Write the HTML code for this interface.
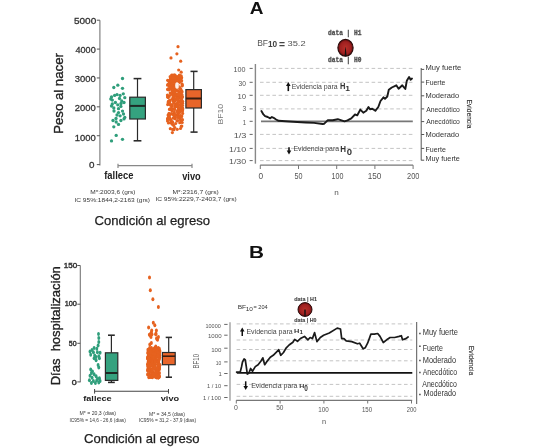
<!DOCTYPE html>
<html><head><meta charset="utf-8"><style>
html,body{margin:0;padding:0;background:#fff;width:533px;height:447px;overflow:hidden}
svg{display:block;filter:blur(0.45px)}
text{white-space:pre}
</style></head><body>
<svg width="533" height="447" viewBox="0 0 533 447">
<rect width="533" height="447" fill="#fff"/>
<g id="shapes">
<line x1="99.90" y1="20.20" x2="99.90" y2="165.60" stroke="#777" stroke-width="1.1" />
<line x1="96.80" y1="164.60" x2="99.90" y2="164.60" stroke="#555" stroke-width="1" />
<line x1="96.80" y1="135.72" x2="99.90" y2="135.72" stroke="#555" stroke-width="1" />
<line x1="96.80" y1="106.84" x2="99.90" y2="106.84" stroke="#555" stroke-width="1" />
<line x1="96.80" y1="77.96" x2="99.90" y2="77.96" stroke="#555" stroke-width="1" />
<line x1="96.80" y1="49.08" x2="99.90" y2="49.08" stroke="#555" stroke-width="1" />
<line x1="96.80" y1="20.20" x2="99.90" y2="20.20" stroke="#555" stroke-width="1" />
<ellipse cx="122.50" cy="78.50" rx="1.65" ry="1.65" fill="#2f9e7b"/>
<ellipse cx="117.80" cy="85.20" rx="1.65" ry="1.65" fill="#2f9e7b"/>
<ellipse cx="113.80" cy="87.50" rx="1.65" ry="1.65" fill="#2f9e7b"/>
<ellipse cx="122.50" cy="88.30" rx="1.65" ry="1.65" fill="#2f9e7b"/>
<ellipse cx="111.50" cy="97.00" rx="1.65" ry="1.65" fill="#2f9e7b"/>
<ellipse cx="114.60" cy="95.40" rx="1.65" ry="1.65" fill="#2f9e7b"/>
<ellipse cx="117.00" cy="94.60" rx="1.65" ry="1.65" fill="#2f9e7b"/>
<ellipse cx="120.10" cy="95.40" rx="1.65" ry="1.65" fill="#2f9e7b"/>
<ellipse cx="123.30" cy="93.80" rx="1.65" ry="1.65" fill="#2f9e7b"/>
<ellipse cx="124.80" cy="97.70" rx="1.65" ry="1.65" fill="#2f9e7b"/>
<ellipse cx="112.30" cy="100.10" rx="1.65" ry="1.65" fill="#2f9e7b"/>
<ellipse cx="112.30" cy="104.00" rx="1.65" ry="1.65" fill="#2f9e7b"/>
<ellipse cx="115.40" cy="102.50" rx="1.65" ry="1.65" fill="#2f9e7b"/>
<ellipse cx="117.80" cy="104.80" rx="1.65" ry="1.65" fill="#2f9e7b"/>
<ellipse cx="121.70" cy="100.90" rx="1.65" ry="1.65" fill="#2f9e7b"/>
<ellipse cx="124.00" cy="102.50" rx="1.65" ry="1.65" fill="#2f9e7b"/>
<ellipse cx="113.80" cy="108.00" rx="1.65" ry="1.65" fill="#2f9e7b"/>
<ellipse cx="118.50" cy="108.70" rx="1.65" ry="1.65" fill="#2f9e7b"/>
<ellipse cx="120.90" cy="106.40" rx="1.65" ry="1.65" fill="#2f9e7b"/>
<ellipse cx="122.50" cy="111.10" rx="1.65" ry="1.65" fill="#2f9e7b"/>
<ellipse cx="118.50" cy="112.60" rx="1.65" ry="1.65" fill="#2f9e7b"/>
<ellipse cx="117.00" cy="115.00" rx="1.65" ry="1.65" fill="#2f9e7b"/>
<ellipse cx="120.10" cy="115.80" rx="1.65" ry="1.65" fill="#2f9e7b"/>
<ellipse cx="124.80" cy="117.40" rx="1.65" ry="1.65" fill="#2f9e7b"/>
<ellipse cx="113.00" cy="120.50" rx="1.65" ry="1.65" fill="#2f9e7b"/>
<ellipse cx="116.20" cy="122.00" rx="1.65" ry="1.65" fill="#2f9e7b"/>
<ellipse cx="120.90" cy="120.50" rx="1.65" ry="1.65" fill="#2f9e7b"/>
<ellipse cx="118.50" cy="124.40" rx="1.65" ry="1.65" fill="#2f9e7b"/>
<ellipse cx="113.80" cy="126.80" rx="1.65" ry="1.65" fill="#2f9e7b"/>
<ellipse cx="124.00" cy="118.90" rx="1.65" ry="1.65" fill="#2f9e7b"/>
<ellipse cx="116.20" cy="135.40" rx="1.65" ry="1.65" fill="#2f9e7b"/>
<ellipse cx="111.50" cy="140.90" rx="1.65" ry="1.65" fill="#2f9e7b"/>
<ellipse cx="122.50" cy="139.30" rx="1.65" ry="1.65" fill="#2f9e7b"/>
<ellipse cx="110.80" cy="99.00" rx="1.65" ry="1.65" fill="#2f9e7b"/>
<ellipse cx="119.50" cy="98.50" rx="1.65" ry="1.65" fill="#2f9e7b"/>
<ellipse cx="114.00" cy="111.00" rx="1.65" ry="1.65" fill="#2f9e7b"/>
<ellipse cx="121.00" cy="103.50" rx="1.65" ry="1.65" fill="#2f9e7b"/>
<ellipse cx="116.00" cy="118.50" rx="1.65" ry="1.65" fill="#2f9e7b"/>
<ellipse cx="123.50" cy="114.00" rx="1.65" ry="1.65" fill="#2f9e7b"/>
<ellipse cx="111.50" cy="106.00" rx="1.65" ry="1.65" fill="#2f9e7b"/>
<line x1="137.50" y1="78.60" x2="137.50" y2="97.20" stroke="#2a2a2a" stroke-width="1.2" />
<line x1="137.50" y1="119.00" x2="137.50" y2="140.80" stroke="#2a2a2a" stroke-width="1.2" />
<line x1="133.60" y1="78.60" x2="141.40" y2="78.60" stroke="#2a2a2a" stroke-width="1.56" />
<line x1="133.60" y1="140.80" x2="141.40" y2="140.80" stroke="#2a2a2a" stroke-width="1.56" />
<rect x="129.80" y="97.20" width="15.60" height="21.80" fill="#35a27f" stroke="#2a2a2a" stroke-width="1.2"/>
<line x1="129.80" y1="105.90" x2="145.40" y2="105.90" stroke="#1e2a25" stroke-width="2" />
<ellipse cx="178.00" cy="46.70" rx="1.6" ry="1.6" fill="#e6621f"/>
<ellipse cx="176.90" cy="53.80" rx="1.6" ry="1.6" fill="#e6621f"/>
<ellipse cx="171.00" cy="57.90" rx="1.6" ry="1.6" fill="#e6621f"/>
<ellipse cx="180.70" cy="61.20" rx="1.6" ry="1.6" fill="#e6621f"/>
<ellipse cx="178.70" cy="70.00" rx="1.6" ry="1.6" fill="#e6621f"/>
<ellipse cx="181.20" cy="72.20" rx="1.6" ry="1.6" fill="#e6621f"/>
<ellipse cx="172.90" cy="129.30" rx="1.6" ry="1.6" fill="#e6621f"/>
<ellipse cx="172.40" cy="132.60" rx="1.6" ry="1.6" fill="#e6621f"/>
<ellipse cx="181.80" cy="126.00" rx="1.6" ry="1.6" fill="#e6621f"/>
<ellipse cx="174.80" cy="127.50" rx="1.6" ry="1.6" fill="#e6621f"/>
<ellipse cx="168.50" cy="123.00" rx="1.6" ry="1.6" fill="#e6621f"/>
<ellipse cx="177.00" cy="121.00" rx="1.6" ry="1.6" fill="#e6621f"/>
<ellipse cx="169.72" cy="88.28" rx="1.6" ry="1.6" fill="#e6621f"/>
<ellipse cx="168.52" cy="101.69" rx="1.6" ry="1.6" fill="#e6621f"/>
<ellipse cx="173.03" cy="96.97" rx="1.6" ry="1.6" fill="#e6621f"/>
<ellipse cx="175.94" cy="77.38" rx="1.6" ry="1.6" fill="#e6621f"/>
<ellipse cx="175.06" cy="76.54" rx="1.6" ry="1.6" fill="#e6621f"/>
<ellipse cx="170.98" cy="77.86" rx="1.6" ry="1.6" fill="#e6621f"/>
<ellipse cx="180.13" cy="92.41" rx="1.6" ry="1.6" fill="#e6621f"/>
<ellipse cx="170.84" cy="80.08" rx="1.6" ry="1.6" fill="#e6621f"/>
<ellipse cx="181.99" cy="100.72" rx="1.6" ry="1.6" fill="#e6621f"/>
<ellipse cx="173.51" cy="98.66" rx="1.6" ry="1.6" fill="#e6621f"/>
<ellipse cx="168.12" cy="115.03" rx="1.6" ry="1.6" fill="#e6621f"/>
<ellipse cx="171.86" cy="110.20" rx="1.6" ry="1.6" fill="#e6621f"/>
<ellipse cx="169.21" cy="80.91" rx="1.6" ry="1.6" fill="#e6621f"/>
<ellipse cx="179.97" cy="87.65" rx="1.6" ry="1.6" fill="#e6621f"/>
<ellipse cx="176.36" cy="82.41" rx="1.6" ry="1.6" fill="#e6621f"/>
<ellipse cx="173.13" cy="101.20" rx="1.6" ry="1.6" fill="#e6621f"/>
<ellipse cx="168.37" cy="97.46" rx="1.6" ry="1.6" fill="#e6621f"/>
<ellipse cx="172.35" cy="77.44" rx="1.6" ry="1.6" fill="#e6621f"/>
<ellipse cx="173.98" cy="102.90" rx="1.6" ry="1.6" fill="#e6621f"/>
<ellipse cx="176.42" cy="87.88" rx="1.6" ry="1.6" fill="#e6621f"/>
<ellipse cx="172.02" cy="93.58" rx="1.6" ry="1.6" fill="#e6621f"/>
<ellipse cx="178.16" cy="107.57" rx="1.6" ry="1.6" fill="#e6621f"/>
<ellipse cx="176.25" cy="85.01" rx="1.6" ry="1.6" fill="#e6621f"/>
<ellipse cx="180.88" cy="96.53" rx="1.6" ry="1.6" fill="#e6621f"/>
<ellipse cx="171.83" cy="104.91" rx="1.6" ry="1.6" fill="#e6621f"/>
<ellipse cx="169.22" cy="115.19" rx="1.6" ry="1.6" fill="#e6621f"/>
<ellipse cx="179.06" cy="92.14" rx="1.6" ry="1.6" fill="#e6621f"/>
<ellipse cx="174.93" cy="81.23" rx="1.6" ry="1.6" fill="#e6621f"/>
<ellipse cx="177.85" cy="76.61" rx="1.6" ry="1.6" fill="#e6621f"/>
<ellipse cx="176.22" cy="106.35" rx="1.6" ry="1.6" fill="#e6621f"/>
<ellipse cx="172.23" cy="110.89" rx="1.6" ry="1.6" fill="#e6621f"/>
<ellipse cx="176.55" cy="103.51" rx="1.6" ry="1.6" fill="#e6621f"/>
<ellipse cx="174.43" cy="98.78" rx="1.6" ry="1.6" fill="#e6621f"/>
<ellipse cx="181.95" cy="109.44" rx="1.6" ry="1.6" fill="#e6621f"/>
<ellipse cx="177.63" cy="94.44" rx="1.6" ry="1.6" fill="#e6621f"/>
<ellipse cx="178.25" cy="77.49" rx="1.6" ry="1.6" fill="#e6621f"/>
<ellipse cx="182.69" cy="101.53" rx="1.6" ry="1.6" fill="#e6621f"/>
<ellipse cx="171.78" cy="108.70" rx="1.6" ry="1.6" fill="#e6621f"/>
<ellipse cx="177.70" cy="90.82" rx="1.6" ry="1.6" fill="#e6621f"/>
<ellipse cx="175.39" cy="75.93" rx="1.6" ry="1.6" fill="#e6621f"/>
<ellipse cx="169.20" cy="81.89" rx="1.6" ry="1.6" fill="#e6621f"/>
<ellipse cx="179.04" cy="77.42" rx="1.6" ry="1.6" fill="#e6621f"/>
<ellipse cx="171.21" cy="80.30" rx="1.6" ry="1.6" fill="#e6621f"/>
<ellipse cx="180.82" cy="91.03" rx="1.6" ry="1.6" fill="#e6621f"/>
<ellipse cx="175.25" cy="78.30" rx="1.6" ry="1.6" fill="#e6621f"/>
<ellipse cx="181.00" cy="97.53" rx="1.6" ry="1.6" fill="#e6621f"/>
<ellipse cx="180.71" cy="108.59" rx="1.6" ry="1.6" fill="#e6621f"/>
<ellipse cx="173.80" cy="86.42" rx="1.6" ry="1.6" fill="#e6621f"/>
<ellipse cx="181.02" cy="89.71" rx="1.6" ry="1.6" fill="#e6621f"/>
<ellipse cx="169.72" cy="114.27" rx="1.6" ry="1.6" fill="#e6621f"/>
<ellipse cx="170.97" cy="82.22" rx="1.6" ry="1.6" fill="#e6621f"/>
<ellipse cx="174.87" cy="84.57" rx="1.6" ry="1.6" fill="#e6621f"/>
<ellipse cx="171.45" cy="99.15" rx="1.6" ry="1.6" fill="#e6621f"/>
<ellipse cx="174.89" cy="75.17" rx="1.6" ry="1.6" fill="#e6621f"/>
<ellipse cx="176.12" cy="90.14" rx="1.6" ry="1.6" fill="#e6621f"/>
<ellipse cx="178.03" cy="114.08" rx="1.6" ry="1.6" fill="#e6621f"/>
<ellipse cx="176.91" cy="96.14" rx="1.6" ry="1.6" fill="#e6621f"/>
<ellipse cx="168.23" cy="102.72" rx="1.6" ry="1.6" fill="#e6621f"/>
<ellipse cx="179.41" cy="111.88" rx="1.6" ry="1.6" fill="#e6621f"/>
<ellipse cx="179.69" cy="110.86" rx="1.6" ry="1.6" fill="#e6621f"/>
<ellipse cx="173.54" cy="91.09" rx="1.6" ry="1.6" fill="#e6621f"/>
<ellipse cx="177.45" cy="79.25" rx="1.6" ry="1.6" fill="#e6621f"/>
<ellipse cx="170.70" cy="77.55" rx="1.6" ry="1.6" fill="#e6621f"/>
<ellipse cx="169.90" cy="83.56" rx="1.6" ry="1.6" fill="#e6621f"/>
<ellipse cx="168.21" cy="88.94" rx="1.6" ry="1.6" fill="#e6621f"/>
<ellipse cx="171.70" cy="75.01" rx="1.6" ry="1.6" fill="#e6621f"/>
<ellipse cx="174.23" cy="79.16" rx="1.6" ry="1.6" fill="#e6621f"/>
<ellipse cx="180.30" cy="76.05" rx="1.6" ry="1.6" fill="#e6621f"/>
<ellipse cx="169.69" cy="100.18" rx="1.6" ry="1.6" fill="#e6621f"/>
<ellipse cx="172.75" cy="85.34" rx="1.6" ry="1.6" fill="#e6621f"/>
<ellipse cx="169.29" cy="89.93" rx="1.6" ry="1.6" fill="#e6621f"/>
<ellipse cx="182.69" cy="109.81" rx="1.6" ry="1.6" fill="#e6621f"/>
<ellipse cx="174.85" cy="94.11" rx="1.6" ry="1.6" fill="#e6621f"/>
<ellipse cx="171.12" cy="78.52" rx="1.6" ry="1.6" fill="#e6621f"/>
<ellipse cx="171.48" cy="89.05" rx="1.6" ry="1.6" fill="#e6621f"/>
<ellipse cx="169.89" cy="108.98" rx="1.6" ry="1.6" fill="#e6621f"/>
<ellipse cx="181.22" cy="75.95" rx="1.6" ry="1.6" fill="#e6621f"/>
<ellipse cx="169.66" cy="96.66" rx="1.6" ry="1.6" fill="#e6621f"/>
<ellipse cx="167.82" cy="97.27" rx="1.6" ry="1.6" fill="#e6621f"/>
<ellipse cx="182.47" cy="96.65" rx="1.6" ry="1.6" fill="#e6621f"/>
<ellipse cx="178.12" cy="110.40" rx="1.6" ry="1.6" fill="#e6621f"/>
<ellipse cx="173.05" cy="85.71" rx="1.6" ry="1.6" fill="#e6621f"/>
<ellipse cx="179.29" cy="81.85" rx="1.6" ry="1.6" fill="#e6621f"/>
<ellipse cx="179.40" cy="96.84" rx="1.6" ry="1.6" fill="#e6621f"/>
<ellipse cx="170.83" cy="88.52" rx="1.6" ry="1.6" fill="#e6621f"/>
<ellipse cx="182.57" cy="108.27" rx="1.6" ry="1.6" fill="#e6621f"/>
<ellipse cx="179.81" cy="109.96" rx="1.6" ry="1.6" fill="#e6621f"/>
<ellipse cx="178.79" cy="108.55" rx="1.6" ry="1.6" fill="#e6621f"/>
<ellipse cx="175.37" cy="84.30" rx="1.6" ry="1.6" fill="#e6621f"/>
<ellipse cx="167.85" cy="89.58" rx="1.6" ry="1.6" fill="#e6621f"/>
<ellipse cx="173.23" cy="76.15" rx="1.6" ry="1.6" fill="#e6621f"/>
<ellipse cx="178.06" cy="85.63" rx="1.6" ry="1.6" fill="#e6621f"/>
<ellipse cx="174.29" cy="114.22" rx="1.6" ry="1.6" fill="#e6621f"/>
<ellipse cx="182.62" cy="113.42" rx="1.6" ry="1.6" fill="#e6621f"/>
<ellipse cx="173.02" cy="114.16" rx="1.6" ry="1.6" fill="#e6621f"/>
<ellipse cx="170.89" cy="84.04" rx="1.6" ry="1.6" fill="#e6621f"/>
<ellipse cx="170.55" cy="83.06" rx="1.6" ry="1.6" fill="#e6621f"/>
<ellipse cx="181.26" cy="100.59" rx="1.6" ry="1.6" fill="#e6621f"/>
<ellipse cx="174.78" cy="109.46" rx="1.6" ry="1.6" fill="#e6621f"/>
<ellipse cx="179.71" cy="101.77" rx="1.6" ry="1.6" fill="#e6621f"/>
<ellipse cx="177.76" cy="78.48" rx="1.6" ry="1.6" fill="#e6621f"/>
<ellipse cx="179.45" cy="112.30" rx="1.6" ry="1.6" fill="#e6621f"/>
<ellipse cx="174.76" cy="105.76" rx="1.6" ry="1.6" fill="#e6621f"/>
<ellipse cx="179.55" cy="82.32" rx="1.6" ry="1.6" fill="#e6621f"/>
<ellipse cx="179.73" cy="88.63" rx="1.6" ry="1.6" fill="#e6621f"/>
<ellipse cx="173.50" cy="114.84" rx="1.6" ry="1.6" fill="#e6621f"/>
<ellipse cx="181.98" cy="91.46" rx="1.6" ry="1.6" fill="#e6621f"/>
<ellipse cx="170.02" cy="104.72" rx="1.6" ry="1.6" fill="#e6621f"/>
<ellipse cx="169.73" cy="80.21" rx="1.6" ry="1.6" fill="#e6621f"/>
<ellipse cx="179.82" cy="112.10" rx="1.6" ry="1.6" fill="#e6621f"/>
<ellipse cx="180.13" cy="80.99" rx="1.6" ry="1.6" fill="#e6621f"/>
<ellipse cx="177.52" cy="115.19" rx="1.6" ry="1.6" fill="#e6621f"/>
<ellipse cx="175.85" cy="89.37" rx="1.6" ry="1.6" fill="#e6621f"/>
<ellipse cx="167.62" cy="80.37" rx="1.6" ry="1.6" fill="#e6621f"/>
<ellipse cx="177.40" cy="114.81" rx="1.6" ry="1.6" fill="#e6621f"/>
<ellipse cx="181.78" cy="96.59" rx="1.6" ry="1.6" fill="#e6621f"/>
<ellipse cx="180.82" cy="92.79" rx="1.6" ry="1.6" fill="#e6621f"/>
<ellipse cx="170.65" cy="108.87" rx="1.6" ry="1.6" fill="#e6621f"/>
<ellipse cx="171.91" cy="85.33" rx="1.6" ry="1.6" fill="#e6621f"/>
<ellipse cx="176.43" cy="84.86" rx="1.6" ry="1.6" fill="#e6621f"/>
<ellipse cx="173.85" cy="85.63" rx="1.6" ry="1.6" fill="#e6621f"/>
<ellipse cx="181.41" cy="80.37" rx="1.6" ry="1.6" fill="#e6621f"/>
<ellipse cx="174.46" cy="89.51" rx="1.6" ry="1.6" fill="#e6621f"/>
<ellipse cx="181.33" cy="98.92" rx="1.6" ry="1.6" fill="#e6621f"/>
<ellipse cx="181.53" cy="92.25" rx="1.6" ry="1.6" fill="#e6621f"/>
<ellipse cx="175.59" cy="95.57" rx="1.6" ry="1.6" fill="#e6621f"/>
<ellipse cx="167.69" cy="96.46" rx="1.6" ry="1.6" fill="#e6621f"/>
<ellipse cx="170.22" cy="93.05" rx="1.6" ry="1.6" fill="#e6621f"/>
<ellipse cx="179.41" cy="75.16" rx="1.6" ry="1.6" fill="#e6621f"/>
<ellipse cx="174.69" cy="82.07" rx="1.6" ry="1.6" fill="#e6621f"/>
<ellipse cx="175.97" cy="104.73" rx="1.6" ry="1.6" fill="#e6621f"/>
<ellipse cx="175.38" cy="88.37" rx="1.6" ry="1.6" fill="#e6621f"/>
<ellipse cx="179.48" cy="97.77" rx="1.6" ry="1.6" fill="#e6621f"/>
<ellipse cx="176.57" cy="79.35" rx="1.6" ry="1.6" fill="#e6621f"/>
<ellipse cx="171.66" cy="85.19" rx="1.6" ry="1.6" fill="#e6621f"/>
<ellipse cx="175.22" cy="106.66" rx="1.6" ry="1.6" fill="#e6621f"/>
<ellipse cx="179.10" cy="98.03" rx="1.6" ry="1.6" fill="#e6621f"/>
<ellipse cx="174.23" cy="112.41" rx="1.6" ry="1.6" fill="#e6621f"/>
<ellipse cx="175.19" cy="100.11" rx="1.6" ry="1.6" fill="#e6621f"/>
<ellipse cx="178.07" cy="96.00" rx="1.6" ry="1.6" fill="#e6621f"/>
<ellipse cx="175.61" cy="93.55" rx="1.6" ry="1.6" fill="#e6621f"/>
<ellipse cx="181.90" cy="94.60" rx="1.6" ry="1.6" fill="#e6621f"/>
<ellipse cx="180.90" cy="103.67" rx="1.6" ry="1.6" fill="#e6621f"/>
<ellipse cx="171.40" cy="113.63" rx="1.6" ry="1.6" fill="#e6621f"/>
<ellipse cx="181.93" cy="97.94" rx="1.6" ry="1.6" fill="#e6621f"/>
<ellipse cx="169.51" cy="109.44" rx="1.6" ry="1.6" fill="#e6621f"/>
<ellipse cx="175.16" cy="79.99" rx="1.6" ry="1.6" fill="#e6621f"/>
<ellipse cx="172.76" cy="77.97" rx="1.6" ry="1.6" fill="#e6621f"/>
<ellipse cx="177.87" cy="78.00" rx="1.6" ry="1.6" fill="#e6621f"/>
<ellipse cx="181.21" cy="107.14" rx="1.6" ry="1.6" fill="#e6621f"/>
<ellipse cx="178.43" cy="81.33" rx="1.6" ry="1.6" fill="#e6621f"/>
<ellipse cx="169.60" cy="102.07" rx="1.6" ry="1.6" fill="#e6621f"/>
<ellipse cx="182.30" cy="111.20" rx="1.6" ry="1.6" fill="#e6621f"/>
<ellipse cx="182.07" cy="84.00" rx="1.6" ry="1.6" fill="#e6621f"/>
<ellipse cx="174.90" cy="91.33" rx="1.6" ry="1.6" fill="#e6621f"/>
<ellipse cx="180.22" cy="115.58" rx="1.6" ry="1.6" fill="#e6621f"/>
<ellipse cx="174.05" cy="81.62" rx="1.6" ry="1.6" fill="#e6621f"/>
<ellipse cx="172.62" cy="96.14" rx="1.6" ry="1.6" fill="#e6621f"/>
<ellipse cx="172.31" cy="83.03" rx="1.6" ry="1.6" fill="#e6621f"/>
<ellipse cx="167.70" cy="104.61" rx="1.6" ry="1.6" fill="#e6621f"/>
<ellipse cx="174.18" cy="97.72" rx="1.6" ry="1.6" fill="#e6621f"/>
<ellipse cx="173.84" cy="75.74" rx="1.6" ry="1.6" fill="#e6621f"/>
<ellipse cx="175.29" cy="100.58" rx="1.6" ry="1.6" fill="#e6621f"/>
<ellipse cx="181.62" cy="77.64" rx="1.6" ry="1.6" fill="#e6621f"/>
<ellipse cx="182.36" cy="107.32" rx="1.6" ry="1.6" fill="#e6621f"/>
<ellipse cx="173.06" cy="79.30" rx="1.6" ry="1.6" fill="#e6621f"/>
<ellipse cx="179.17" cy="76.62" rx="1.6" ry="1.6" fill="#e6621f"/>
<ellipse cx="169.40" cy="86.09" rx="1.6" ry="1.6" fill="#e6621f"/>
<ellipse cx="181.44" cy="92.31" rx="1.6" ry="1.6" fill="#e6621f"/>
<ellipse cx="171.38" cy="108.58" rx="1.6" ry="1.6" fill="#e6621f"/>
<ellipse cx="181.56" cy="81.12" rx="1.6" ry="1.6" fill="#e6621f"/>
<ellipse cx="178.19" cy="98.39" rx="1.6" ry="1.6" fill="#e6621f"/>
<ellipse cx="170.58" cy="78.67" rx="1.6" ry="1.6" fill="#e6621f"/>
<ellipse cx="173.95" cy="103.22" rx="1.6" ry="1.6" fill="#e6621f"/>
<ellipse cx="181.07" cy="77.97" rx="1.6" ry="1.6" fill="#e6621f"/>
<ellipse cx="179.75" cy="101.01" rx="1.6" ry="1.6" fill="#e6621f"/>
<ellipse cx="180.09" cy="78.43" rx="1.6" ry="1.6" fill="#e6621f"/>
<ellipse cx="180.17" cy="77.73" rx="1.6" ry="1.6" fill="#e6621f"/>
<ellipse cx="172.62" cy="93.60" rx="1.6" ry="1.6" fill="#e6621f"/>
<ellipse cx="181.67" cy="97.68" rx="1.6" ry="1.6" fill="#e6621f"/>
<ellipse cx="169.39" cy="85.98" rx="1.6" ry="1.6" fill="#e6621f"/>
<ellipse cx="171.07" cy="96.60" rx="1.6" ry="1.6" fill="#e6621f"/>
<ellipse cx="171.82" cy="79.49" rx="1.6" ry="1.6" fill="#e6621f"/>
<ellipse cx="172.30" cy="77.07" rx="1.6" ry="1.6" fill="#e6621f"/>
<ellipse cx="172.10" cy="87.79" rx="1.6" ry="1.6" fill="#e6621f"/>
<ellipse cx="171.87" cy="106.14" rx="1.6" ry="1.6" fill="#e6621f"/>
<ellipse cx="170.14" cy="95.50" rx="1.6" ry="1.6" fill="#e6621f"/>
<ellipse cx="167.68" cy="89.23" rx="1.6" ry="1.6" fill="#e6621f"/>
<ellipse cx="167.64" cy="85.27" rx="1.6" ry="1.6" fill="#e6621f"/>
<ellipse cx="175.89" cy="105.06" rx="1.6" ry="1.6" fill="#e6621f"/>
<ellipse cx="174.71" cy="82.77" rx="1.6" ry="1.6" fill="#e6621f"/>
<ellipse cx="169.04" cy="113.32" rx="1.6" ry="1.6" fill="#e6621f"/>
<ellipse cx="174.06" cy="108.58" rx="1.6" ry="1.6" fill="#e6621f"/>
<ellipse cx="180.25" cy="95.30" rx="1.6" ry="1.6" fill="#e6621f"/>
<ellipse cx="175.20" cy="91.12" rx="1.6" ry="1.6" fill="#e6621f"/>
<ellipse cx="182.53" cy="103.20" rx="1.6" ry="1.6" fill="#e6621f"/>
<ellipse cx="180.22" cy="89.05" rx="1.6" ry="1.6" fill="#e6621f"/>
<ellipse cx="177.19" cy="103.98" rx="1.6" ry="1.6" fill="#e6621f"/>
<ellipse cx="172.75" cy="91.59" rx="1.6" ry="1.6" fill="#e6621f"/>
<ellipse cx="171.44" cy="77.23" rx="1.6" ry="1.6" fill="#e6621f"/>
<ellipse cx="178.72" cy="77.90" rx="1.6" ry="1.6" fill="#e6621f"/>
<ellipse cx="169.91" cy="85.48" rx="1.6" ry="1.6" fill="#e6621f"/>
<ellipse cx="179.91" cy="78.46" rx="1.6" ry="1.6" fill="#e6621f"/>
<ellipse cx="177.73" cy="110.69" rx="1.6" ry="1.6" fill="#e6621f"/>
<ellipse cx="171.13" cy="86.56" rx="1.6" ry="1.6" fill="#e6621f"/>
<ellipse cx="174.48" cy="87.02" rx="1.6" ry="1.6" fill="#e6621f"/>
<ellipse cx="174.27" cy="81.46" rx="1.6" ry="1.6" fill="#e6621f"/>
<ellipse cx="182.21" cy="85.79" rx="1.6" ry="1.6" fill="#e6621f"/>
<ellipse cx="175.82" cy="114.88" rx="1.6" ry="1.6" fill="#e6621f"/>
<ellipse cx="182.27" cy="85.02" rx="1.6" ry="1.6" fill="#e6621f"/>
<ellipse cx="172.89" cy="87.69" rx="1.6" ry="1.6" fill="#e6621f"/>
<ellipse cx="174.44" cy="75.04" rx="1.6" ry="1.6" fill="#e6621f"/>
<ellipse cx="175.14" cy="94.46" rx="1.6" ry="1.6" fill="#e6621f"/>
<ellipse cx="175.17" cy="83.24" rx="1.6" ry="1.6" fill="#e6621f"/>
<ellipse cx="173.04" cy="75.20" rx="1.6" ry="1.6" fill="#e6621f"/>
<ellipse cx="174.65" cy="78.68" rx="1.6" ry="1.6" fill="#e6621f"/>
<ellipse cx="170.17" cy="76.71" rx="1.6" ry="1.6" fill="#e6621f"/>
<ellipse cx="170.99" cy="87.47" rx="1.6" ry="1.6" fill="#e6621f"/>
<ellipse cx="175.55" cy="99.01" rx="1.6" ry="1.6" fill="#e6621f"/>
<ellipse cx="177.53" cy="105.77" rx="1.6" ry="1.6" fill="#e6621f"/>
<ellipse cx="180.94" cy="104.36" rx="1.6" ry="1.6" fill="#e6621f"/>
<ellipse cx="172.42" cy="90.97" rx="1.6" ry="1.6" fill="#e6621f"/>
<ellipse cx="169.70" cy="115.37" rx="1.6" ry="1.6" fill="#e6621f"/>
<ellipse cx="177.31" cy="104.69" rx="1.6" ry="1.6" fill="#e6621f"/>
<ellipse cx="179.84" cy="76.80" rx="1.6" ry="1.6" fill="#e6621f"/>
<ellipse cx="177.06" cy="111.57" rx="1.6" ry="1.6" fill="#e6621f"/>
<ellipse cx="179.91" cy="105.09" rx="1.6" ry="1.6" fill="#e6621f"/>
<ellipse cx="175.47" cy="80.71" rx="1.6" ry="1.6" fill="#e6621f"/>
<ellipse cx="180.26" cy="95.68" rx="1.6" ry="1.6" fill="#e6621f"/>
<ellipse cx="180.13" cy="107.99" rx="1.6" ry="1.6" fill="#e6621f"/>
<ellipse cx="181.15" cy="98.95" rx="1.6" ry="1.6" fill="#e6621f"/>
<ellipse cx="178.08" cy="103.00" rx="1.6" ry="1.6" fill="#e6621f"/>
<ellipse cx="167.88" cy="84.43" rx="1.6" ry="1.6" fill="#e6621f"/>
<ellipse cx="172.95" cy="80.46" rx="1.6" ry="1.6" fill="#e6621f"/>
<ellipse cx="179.85" cy="79.30" rx="1.6" ry="1.6" fill="#e6621f"/>
<ellipse cx="177.07" cy="97.90" rx="1.6" ry="1.6" fill="#e6621f"/>
<ellipse cx="177.88" cy="100.68" rx="1.6" ry="1.6" fill="#e6621f"/>
<ellipse cx="167.45" cy="95.06" rx="1.6" ry="1.6" fill="#e6621f"/>
<ellipse cx="178.92" cy="107.71" rx="1.6" ry="1.6" fill="#e6621f"/>
<ellipse cx="175.64" cy="95.62" rx="1.6" ry="1.6" fill="#e6621f"/>
<ellipse cx="168.42" cy="102.03" rx="1.6" ry="1.6" fill="#e6621f"/>
<ellipse cx="171.28" cy="105.21" rx="1.6" ry="1.6" fill="#e6621f"/>
<ellipse cx="173.06" cy="78.05" rx="1.6" ry="1.6" fill="#e6621f"/>
<ellipse cx="170.56" cy="104.90" rx="1.6" ry="1.6" fill="#e6621f"/>
<ellipse cx="182.43" cy="105.33" rx="1.6" ry="1.6" fill="#e6621f"/>
<ellipse cx="173.29" cy="95.25" rx="1.6" ry="1.6" fill="#e6621f"/>
<ellipse cx="177.93" cy="94.64" rx="1.6" ry="1.6" fill="#e6621f"/>
<ellipse cx="176.90" cy="106.45" rx="1.6" ry="1.6" fill="#e6621f"/>
<ellipse cx="168.59" cy="101.35" rx="1.6" ry="1.6" fill="#e6621f"/>
<ellipse cx="171.31" cy="81.04" rx="1.6" ry="1.6" fill="#e6621f"/>
<ellipse cx="178.65" cy="117.44" rx="1.6" ry="1.6" fill="#e6621f"/>
<ellipse cx="176.02" cy="115.10" rx="1.6" ry="1.6" fill="#e6621f"/>
<ellipse cx="168.41" cy="117.15" rx="1.6" ry="1.6" fill="#e6621f"/>
<ellipse cx="177.58" cy="120.54" rx="1.6" ry="1.6" fill="#e6621f"/>
<ellipse cx="177.64" cy="117.33" rx="1.6" ry="1.6" fill="#e6621f"/>
<ellipse cx="175.25" cy="118.72" rx="1.6" ry="1.6" fill="#e6621f"/>
<ellipse cx="174.50" cy="115.95" rx="1.6" ry="1.6" fill="#e6621f"/>
<ellipse cx="180.90" cy="116.59" rx="1.6" ry="1.6" fill="#e6621f"/>
<ellipse cx="182.17" cy="122.49" rx="1.6" ry="1.6" fill="#e6621f"/>
<ellipse cx="167.76" cy="118.67" rx="1.6" ry="1.6" fill="#e6621f"/>
<ellipse cx="179.80" cy="122.74" rx="1.6" ry="1.6" fill="#e6621f"/>
<ellipse cx="174.24" cy="117.15" rx="1.6" ry="1.6" fill="#e6621f"/>
<ellipse cx="170.65" cy="122.56" rx="1.6" ry="1.6" fill="#e6621f"/>
<ellipse cx="170.66" cy="119.65" rx="1.6" ry="1.6" fill="#e6621f"/>
<ellipse cx="169.63" cy="119.19" rx="1.6" ry="1.6" fill="#e6621f"/>
<ellipse cx="181.79" cy="116.06" rx="1.6" ry="1.6" fill="#e6621f"/>
<ellipse cx="179.80" cy="119.07" rx="1.6" ry="1.6" fill="#e6621f"/>
<ellipse cx="180.80" cy="120.63" rx="1.6" ry="1.6" fill="#e6621f"/>
<ellipse cx="170.97" cy="122.18" rx="1.6" ry="1.6" fill="#e6621f"/>
<ellipse cx="174.79" cy="115.20" rx="1.6" ry="1.6" fill="#e6621f"/>
<ellipse cx="167.55" cy="118.93" rx="1.6" ry="1.6" fill="#e6621f"/>
<ellipse cx="174.26" cy="117.42" rx="1.6" ry="1.6" fill="#e6621f"/>
<ellipse cx="169.61" cy="117.75" rx="1.6" ry="1.6" fill="#e6621f"/>
<ellipse cx="172.24" cy="121.72" rx="1.6" ry="1.6" fill="#e6621f"/>
<ellipse cx="167.53" cy="121.01" rx="1.6" ry="1.6" fill="#e6621f"/>
<ellipse cx="180.09" cy="115.96" rx="1.6" ry="1.6" fill="#e6621f"/>
<ellipse cx="181.40" cy="120.70" rx="1.6" ry="1.6" fill="#e6621f"/>
<ellipse cx="181.02" cy="117.32" rx="1.6" ry="1.6" fill="#e6621f"/>
<ellipse cx="173.08" cy="118.14" rx="1.6" ry="1.6" fill="#e6621f"/>
<ellipse cx="182.48" cy="119.71" rx="1.6" ry="1.6" fill="#e6621f"/>
<ellipse cx="173.69" cy="125.42" rx="1.6" ry="1.6" fill="#e6621f"/>
<ellipse cx="172.58" cy="122.39" rx="1.6" ry="1.6" fill="#e6621f"/>
<ellipse cx="170.32" cy="128.68" rx="1.6" ry="1.6" fill="#e6621f"/>
<ellipse cx="172.71" cy="129.48" rx="1.6" ry="1.6" fill="#e6621f"/>
<ellipse cx="172.24" cy="124.13" rx="1.6" ry="1.6" fill="#e6621f"/>
<ellipse cx="175.64" cy="123.52" rx="1.6" ry="1.6" fill="#e6621f"/>
<ellipse cx="173.85" cy="129.65" rx="1.6" ry="1.6" fill="#e6621f"/>
<ellipse cx="180.50" cy="128.50" rx="1.6" ry="1.6" fill="#e6621f"/>
<ellipse cx="177.20" cy="129.31" rx="1.6" ry="1.6" fill="#e6621f"/>
<ellipse cx="181.23" cy="126.39" rx="1.6" ry="1.6" fill="#e6621f"/>
<ellipse cx="177.0" cy="85.5" rx="1.8" ry="3.2" fill="#fff" opacity="0.9"/>
<ellipse cx="170.8" cy="97.5" rx="0.8" ry="2.0" fill="#fff" opacity="0.6" transform="rotate(35 170.8 97.5)"/>
<line x1="193.70" y1="71.40" x2="193.70" y2="89.60" stroke="#2a2a2a" stroke-width="1.2" />
<line x1="193.70" y1="108.00" x2="193.70" y2="132.10" stroke="#2a2a2a" stroke-width="1.2" />
<line x1="190.50" y1="71.40" x2="197.60" y2="71.40" stroke="#2a2a2a" stroke-width="1.56" />
<line x1="190.50" y1="132.10" x2="197.60" y2="132.10" stroke="#2a2a2a" stroke-width="1.56" />
<rect x="185.90" y="89.60" width="15.50" height="18.40" fill="#e8652a" stroke="#2a2a2a" stroke-width="1.2"/>
<line x1="185.90" y1="98.50" x2="201.40" y2="98.50" stroke="#3a1e10" stroke-width="2" />
<line x1="118.00" y1="165.60" x2="192.00" y2="165.60" stroke="#888" stroke-width="1.4" />
<line x1="118.00" y1="163.80" x2="118.00" y2="168.00" stroke="#888" stroke-width="1.2" />
<line x1="192.00" y1="163.80" x2="192.00" y2="168.00" stroke="#888" stroke-width="1.2" />
<defs><radialGradient id="pg" cx="50%" cy="50%" r="50%"><stop offset="0" stop-color="#b8302a"/><stop offset="0.7" stop-color="#a02020"/><stop offset="1" stop-color="#6a1010"/></radialGradient></defs>
<ellipse cx="345.5" cy="47.8" rx="7.6" ry="8.4" fill="url(#pg)" stroke="#2a0a0a" stroke-width="1.2"/>
<polygon points="344.6,56.2 345.3,47.2 345.7,47.2 346.6,56.2" fill="#111"/>
<line x1="255.40" y1="64.00" x2="255.40" y2="163.70" stroke="#888" stroke-width="1.4" />
<line x1="249.60" y1="68.40" x2="252.70" y2="68.40" stroke="#666" stroke-width="1" />
<line x1="260.00" y1="68.40" x2="413.50" y2="68.40" stroke="#c4c4c4" stroke-width="1" stroke-dasharray="3.6,2.6"/>
<line x1="249.60" y1="82.30" x2="252.70" y2="82.30" stroke="#666" stroke-width="1" />
<line x1="260.00" y1="82.30" x2="413.50" y2="82.30" stroke="#c4c4c4" stroke-width="1" stroke-dasharray="3.6,2.6"/>
<line x1="249.60" y1="95.30" x2="252.70" y2="95.30" stroke="#666" stroke-width="1" />
<line x1="260.00" y1="95.30" x2="413.50" y2="95.30" stroke="#c4c4c4" stroke-width="1" stroke-dasharray="3.6,2.6"/>
<line x1="249.60" y1="108.90" x2="252.70" y2="108.90" stroke="#666" stroke-width="1" />
<line x1="260.00" y1="108.90" x2="413.50" y2="108.90" stroke="#c4c4c4" stroke-width="1" stroke-dasharray="3.6,2.6"/>
<line x1="249.60" y1="121.30" x2="252.70" y2="121.30" stroke="#666" stroke-width="1" />
<line x1="261.00" y1="121.30" x2="412.80" y2="121.30" stroke="#777" stroke-width="1.8" />
<line x1="249.60" y1="134.40" x2="252.70" y2="134.40" stroke="#666" stroke-width="1" />
<line x1="260.00" y1="134.40" x2="413.50" y2="134.40" stroke="#c4c4c4" stroke-width="1" stroke-dasharray="3.6,2.6"/>
<line x1="249.60" y1="148.40" x2="252.70" y2="148.40" stroke="#666" stroke-width="1" />
<line x1="260.00" y1="148.40" x2="413.50" y2="148.40" stroke="#c4c4c4" stroke-width="1" stroke-dasharray="3.6,2.6"/>
<line x1="249.60" y1="160.60" x2="252.70" y2="160.60" stroke="#666" stroke-width="1" />
<line x1="260.00" y1="160.60" x2="413.50" y2="160.60" stroke="#c4c4c4" stroke-width="1" stroke-dasharray="3.6,2.6"/>
<line x1="421.20" y1="68.00" x2="421.20" y2="160.40" stroke="#555" stroke-width="1" />
<line x1="421.20" y1="69.40" x2="424.20" y2="69.40" stroke="#555" stroke-width="1" />
<line x1="421.20" y1="82.10" x2="424.20" y2="82.10" stroke="#555" stroke-width="1" />
<line x1="421.20" y1="95.80" x2="424.20" y2="95.80" stroke="#555" stroke-width="1" />
<line x1="421.20" y1="108.90" x2="424.20" y2="108.90" stroke="#555" stroke-width="1" />
<line x1="421.20" y1="121.60" x2="424.20" y2="121.60" stroke="#555" stroke-width="1" />
<line x1="421.20" y1="134.50" x2="424.20" y2="134.50" stroke="#555" stroke-width="1" />
<line x1="421.20" y1="148.40" x2="424.20" y2="148.40" stroke="#555" stroke-width="1" />
<line x1="421.20" y1="160.20" x2="424.20" y2="160.20" stroke="#555" stroke-width="1" />
<line x1="260.20" y1="165.10" x2="413.10" y2="165.10" stroke="#777" stroke-width="1.2" />
<line x1="260.30" y1="165.10" x2="260.30" y2="169.00" stroke="#777" stroke-width="1" />
<line x1="298.50" y1="165.10" x2="298.50" y2="169.00" stroke="#777" stroke-width="1" />
<line x1="336.70" y1="165.10" x2="336.70" y2="169.00" stroke="#777" stroke-width="1" />
<line x1="374.90" y1="165.10" x2="374.90" y2="169.00" stroke="#777" stroke-width="1" />
<line x1="413.10" y1="165.10" x2="413.10" y2="169.00" stroke="#777" stroke-width="1" />
<line x1="288.30" y1="85.00" x2="288.30" y2="91.10" stroke="#111" stroke-width="1.6" />
<polygon points="286.00,86.00 288.30,82.00 290.60,86.00" fill="#111"/>
<line x1="289.00" y1="147.20" x2="289.00" y2="151.50" stroke="#111" stroke-width="1.6" />
<polygon points="286.70,150.50 289.00,154.50 291.30,150.50" fill="#111"/>
<polyline points="261.40,111.00 263.40,114.40 265.10,116.10 267.70,117.00 270.20,118.30 271.90,117.00 273.60,117.80 276.10,119.50 278.60,120.80 285.40,121.20 297.20,122.00 305.70,122.50 314.10,122.90 322.60,124.00 324.30,123.70 327.60,120.30 332.70,120.30 337.80,119.20 340.00,119.80 344.50,121.30 347.50,120.30 351.30,118.30 355.00,114.50 357.30,115.30 360.30,109.60 363.30,112.70 366.30,110.80 368.50,107.00 370.00,109.30 372.30,108.80 375.30,110.80 378.30,107.00 380.50,101.00 383.50,97.30 385.00,98.80 387.30,96.50 388.80,89.80 391.80,87.50 396.30,85.30 398.60,88.70 402.30,85.30 405.30,89.00 406.80,80.80 409.10,77.00 410.60,79.70 412.00,78.50" fill="none" stroke="#1a1a1a" stroke-width="1.9" stroke-linejoin="round" stroke-linecap="round"/>
<line x1="80.30" y1="265.50" x2="80.30" y2="382.20" stroke="#777" stroke-width="1.1" />
<line x1="77.30" y1="265.50" x2="80.30" y2="265.50" stroke="#555" stroke-width="1" />
<line x1="77.30" y1="304.20" x2="80.30" y2="304.20" stroke="#555" stroke-width="1" />
<line x1="77.30" y1="343.30" x2="80.30" y2="343.30" stroke="#555" stroke-width="1" />
<line x1="77.30" y1="381.90" x2="80.30" y2="381.90" stroke="#555" stroke-width="1" />
<ellipse cx="98.50" cy="334.00" rx="1.45" ry="2.0" fill="#2f9e7b"/>
<ellipse cx="98.80" cy="338.00" rx="1.45" ry="2.0" fill="#2f9e7b"/>
<ellipse cx="98.80" cy="342.10" rx="1.45" ry="2.0" fill="#2f9e7b"/>
<ellipse cx="98.10" cy="345.40" rx="1.45" ry="2.0" fill="#2f9e7b"/>
<ellipse cx="94.10" cy="348.10" rx="1.45" ry="2.0" fill="#2f9e7b"/>
<ellipse cx="96.80" cy="348.80" rx="1.45" ry="2.0" fill="#2f9e7b"/>
<ellipse cx="90.00" cy="351.50" rx="1.45" ry="2.0" fill="#2f9e7b"/>
<ellipse cx="93.40" cy="352.20" rx="1.45" ry="2.0" fill="#2f9e7b"/>
<ellipse cx="97.40" cy="352.20" rx="1.45" ry="2.0" fill="#2f9e7b"/>
<ellipse cx="100.10" cy="352.80" rx="1.45" ry="2.0" fill="#2f9e7b"/>
<ellipse cx="90.70" cy="354.80" rx="1.45" ry="2.0" fill="#2f9e7b"/>
<ellipse cx="94.70" cy="355.50" rx="1.45" ry="2.0" fill="#2f9e7b"/>
<ellipse cx="98.80" cy="356.20" rx="1.45" ry="2.0" fill="#2f9e7b"/>
<ellipse cx="94.10" cy="358.20" rx="1.45" ry="2.0" fill="#2f9e7b"/>
<ellipse cx="96.10" cy="360.20" rx="1.45" ry="2.0" fill="#2f9e7b"/>
<ellipse cx="99.40" cy="358.20" rx="1.45" ry="2.0" fill="#2f9e7b"/>
<ellipse cx="92.00" cy="350.00" rx="1.45" ry="2.0" fill="#2f9e7b"/>
<ellipse cx="96.00" cy="357.00" rx="1.45" ry="2.0" fill="#2f9e7b"/>
<ellipse cx="98.10" cy="364.90" rx="1.45" ry="2.0" fill="#2f9e7b"/>
<ellipse cx="98.80" cy="367.60" rx="1.45" ry="2.0" fill="#2f9e7b"/>
<ellipse cx="90.70" cy="369.60" rx="1.45" ry="2.0" fill="#2f9e7b"/>
<ellipse cx="91.40" cy="373.00" rx="1.45" ry="2.0" fill="#2f9e7b"/>
<ellipse cx="94.10" cy="374.30" rx="1.45" ry="2.0" fill="#2f9e7b"/>
<ellipse cx="90.00" cy="375.70" rx="1.45" ry="2.0" fill="#2f9e7b"/>
<ellipse cx="92.10" cy="377.70" rx="1.45" ry="2.0" fill="#2f9e7b"/>
<ellipse cx="96.10" cy="376.30" rx="1.45" ry="2.0" fill="#2f9e7b"/>
<ellipse cx="99.40" cy="378.30" rx="1.45" ry="2.0" fill="#2f9e7b"/>
<ellipse cx="89.40" cy="380.30" rx="1.45" ry="2.0" fill="#2f9e7b"/>
<ellipse cx="93.40" cy="381.00" rx="1.45" ry="2.0" fill="#2f9e7b"/>
<ellipse cx="96.80" cy="380.30" rx="1.45" ry="2.0" fill="#2f9e7b"/>
<ellipse cx="100.10" cy="381.00" rx="1.45" ry="2.0" fill="#2f9e7b"/>
<ellipse cx="91.40" cy="383.00" rx="1.45" ry="2.0" fill="#2f9e7b"/>
<ellipse cx="95.40" cy="383.00" rx="1.45" ry="2.0" fill="#2f9e7b"/>
<ellipse cx="98.80" cy="382.40" rx="1.45" ry="2.0" fill="#2f9e7b"/>
<ellipse cx="92.50" cy="371.50" rx="1.45" ry="2.0" fill="#2f9e7b"/>
<ellipse cx="97.50" cy="379.00" rx="1.45" ry="2.0" fill="#2f9e7b"/>
<line x1="111.40" y1="335.20" x2="111.40" y2="352.80" stroke="#2a2a2a" stroke-width="1.2" />
<line x1="111.40" y1="380.40" x2="111.40" y2="382.40" stroke="#2a2a2a" stroke-width="1.2" />
<line x1="108.00" y1="335.20" x2="114.80" y2="335.20" stroke="#2a2a2a" stroke-width="1.56" />
<line x1="108.00" y1="382.40" x2="114.80" y2="382.40" stroke="#2a2a2a" stroke-width="1.56" />
<rect x="105.40" y="352.80" width="12.40" height="27.60" fill="#35a27f" stroke="#2a2a2a" stroke-width="1.2"/>
<line x1="105.40" y1="373.00" x2="117.80" y2="373.00" stroke="#1e2a25" stroke-width="2" />
<ellipse cx="149.50" cy="277.40" rx="1.5" ry="2.0" fill="#e6621f"/>
<ellipse cx="150.30" cy="290.30" rx="1.5" ry="2.0" fill="#e6621f"/>
<ellipse cx="152.90" cy="299.20" rx="1.5" ry="2.0" fill="#e6621f"/>
<ellipse cx="158.40" cy="307.10" rx="1.5" ry="2.0" fill="#e6621f"/>
<ellipse cx="153.30" cy="322.80" rx="1.5" ry="2.0" fill="#e6621f"/>
<ellipse cx="154.80" cy="325.20" rx="1.5" ry="2.0" fill="#e6621f"/>
<ellipse cx="148.60" cy="327.50" rx="1.5" ry="2.0" fill="#e6621f"/>
<ellipse cx="151.70" cy="330.60" rx="1.5" ry="2.0" fill="#e6621f"/>
<ellipse cx="156.40" cy="330.60" rx="1.5" ry="2.0" fill="#e6621f"/>
<ellipse cx="151.25" cy="332.84" rx="1.5" ry="2.0" fill="#e6621f"/>
<ellipse cx="157.56" cy="339.76" rx="1.5" ry="2.0" fill="#e6621f"/>
<ellipse cx="151.36" cy="342.96" rx="1.5" ry="2.0" fill="#e6621f"/>
<ellipse cx="156.00" cy="333.73" rx="1.5" ry="2.0" fill="#e6621f"/>
<ellipse cx="151.95" cy="334.16" rx="1.5" ry="2.0" fill="#e6621f"/>
<ellipse cx="156.65" cy="338.15" rx="1.5" ry="2.0" fill="#e6621f"/>
<ellipse cx="149.81" cy="344.56" rx="1.5" ry="2.0" fill="#e6621f"/>
<ellipse cx="158.42" cy="336.90" rx="1.5" ry="2.0" fill="#e6621f"/>
<ellipse cx="151.03" cy="337.11" rx="1.5" ry="2.0" fill="#e6621f"/>
<ellipse cx="156.95" cy="338.92" rx="1.5" ry="2.0" fill="#e6621f"/>
<ellipse cx="149.37" cy="334.75" rx="1.5" ry="2.0" fill="#e6621f"/>
<ellipse cx="155.73" cy="346.59" rx="1.5" ry="2.0" fill="#e6621f"/>
<ellipse cx="150.49" cy="335.74" rx="1.5" ry="2.0" fill="#e6621f"/>
<ellipse cx="158.17" cy="347.95" rx="1.5" ry="2.0" fill="#e6621f"/>
<ellipse cx="150.33" cy="334.37" rx="1.5" ry="2.0" fill="#e6621f"/>
<ellipse cx="155.67" cy="334.36" rx="1.5" ry="2.0" fill="#e6621f"/>
<ellipse cx="151.77" cy="350.69" rx="1.5" ry="2.0" fill="#e6621f"/>
<ellipse cx="150.49" cy="355.62" rx="1.5" ry="2.0" fill="#e6621f"/>
<ellipse cx="154.62" cy="374.17" rx="1.5" ry="2.0" fill="#e6621f"/>
<ellipse cx="156.87" cy="360.18" rx="1.5" ry="2.0" fill="#e6621f"/>
<ellipse cx="152.67" cy="363.46" rx="1.5" ry="2.0" fill="#e6621f"/>
<ellipse cx="152.21" cy="357.98" rx="1.5" ry="2.0" fill="#e6621f"/>
<ellipse cx="148.28" cy="356.19" rx="1.5" ry="2.0" fill="#e6621f"/>
<ellipse cx="159.60" cy="351.71" rx="1.5" ry="2.0" fill="#e6621f"/>
<ellipse cx="153.79" cy="366.57" rx="1.5" ry="2.0" fill="#e6621f"/>
<ellipse cx="158.29" cy="354.37" rx="1.5" ry="2.0" fill="#e6621f"/>
<ellipse cx="150.89" cy="355.33" rx="1.5" ry="2.0" fill="#e6621f"/>
<ellipse cx="152.50" cy="361.15" rx="1.5" ry="2.0" fill="#e6621f"/>
<ellipse cx="159.42" cy="373.04" rx="1.5" ry="2.0" fill="#e6621f"/>
<ellipse cx="158.41" cy="348.64" rx="1.5" ry="2.0" fill="#e6621f"/>
<ellipse cx="147.90" cy="368.93" rx="1.5" ry="2.0" fill="#e6621f"/>
<ellipse cx="158.70" cy="361.96" rx="1.5" ry="2.0" fill="#e6621f"/>
<ellipse cx="154.84" cy="348.01" rx="1.5" ry="2.0" fill="#e6621f"/>
<ellipse cx="152.39" cy="375.34" rx="1.5" ry="2.0" fill="#e6621f"/>
<ellipse cx="157.82" cy="373.24" rx="1.5" ry="2.0" fill="#e6621f"/>
<ellipse cx="159.65" cy="355.33" rx="1.5" ry="2.0" fill="#e6621f"/>
<ellipse cx="148.86" cy="352.55" rx="1.5" ry="2.0" fill="#e6621f"/>
<ellipse cx="154.03" cy="368.12" rx="1.5" ry="2.0" fill="#e6621f"/>
<ellipse cx="159.27" cy="369.29" rx="1.5" ry="2.0" fill="#e6621f"/>
<ellipse cx="155.59" cy="370.56" rx="1.5" ry="2.0" fill="#e6621f"/>
<ellipse cx="153.22" cy="364.27" rx="1.5" ry="2.0" fill="#e6621f"/>
<ellipse cx="147.99" cy="371.08" rx="1.5" ry="2.0" fill="#e6621f"/>
<ellipse cx="150.41" cy="375.14" rx="1.5" ry="2.0" fill="#e6621f"/>
<ellipse cx="155.57" cy="356.96" rx="1.5" ry="2.0" fill="#e6621f"/>
<ellipse cx="149.10" cy="355.43" rx="1.5" ry="2.0" fill="#e6621f"/>
<ellipse cx="155.45" cy="368.61" rx="1.5" ry="2.0" fill="#e6621f"/>
<ellipse cx="148.90" cy="350.08" rx="1.5" ry="2.0" fill="#e6621f"/>
<ellipse cx="154.06" cy="365.20" rx="1.5" ry="2.0" fill="#e6621f"/>
<ellipse cx="152.35" cy="354.60" rx="1.5" ry="2.0" fill="#e6621f"/>
<ellipse cx="155.01" cy="348.31" rx="1.5" ry="2.0" fill="#e6621f"/>
<ellipse cx="151.27" cy="361.59" rx="1.5" ry="2.0" fill="#e6621f"/>
<ellipse cx="159.49" cy="367.01" rx="1.5" ry="2.0" fill="#e6621f"/>
<ellipse cx="158.55" cy="362.02" rx="1.5" ry="2.0" fill="#e6621f"/>
<ellipse cx="150.43" cy="355.29" rx="1.5" ry="2.0" fill="#e6621f"/>
<ellipse cx="159.51" cy="368.79" rx="1.5" ry="2.0" fill="#e6621f"/>
<ellipse cx="151.34" cy="348.64" rx="1.5" ry="2.0" fill="#e6621f"/>
<ellipse cx="153.73" cy="367.90" rx="1.5" ry="2.0" fill="#e6621f"/>
<ellipse cx="152.75" cy="355.59" rx="1.5" ry="2.0" fill="#e6621f"/>
<ellipse cx="155.84" cy="375.29" rx="1.5" ry="2.0" fill="#e6621f"/>
<ellipse cx="150.33" cy="349.01" rx="1.5" ry="2.0" fill="#e6621f"/>
<ellipse cx="151.73" cy="360.41" rx="1.5" ry="2.0" fill="#e6621f"/>
<ellipse cx="156.03" cy="353.84" rx="1.5" ry="2.0" fill="#e6621f"/>
<ellipse cx="157.46" cy="369.80" rx="1.5" ry="2.0" fill="#e6621f"/>
<ellipse cx="153.81" cy="354.05" rx="1.5" ry="2.0" fill="#e6621f"/>
<ellipse cx="159.62" cy="357.20" rx="1.5" ry="2.0" fill="#e6621f"/>
<ellipse cx="157.75" cy="354.81" rx="1.5" ry="2.0" fill="#e6621f"/>
<ellipse cx="150.27" cy="370.43" rx="1.5" ry="2.0" fill="#e6621f"/>
<ellipse cx="151.19" cy="376.08" rx="1.5" ry="2.0" fill="#e6621f"/>
<ellipse cx="153.70" cy="353.53" rx="1.5" ry="2.0" fill="#e6621f"/>
<ellipse cx="150.29" cy="360.30" rx="1.5" ry="2.0" fill="#e6621f"/>
<ellipse cx="155.82" cy="375.99" rx="1.5" ry="2.0" fill="#e6621f"/>
<ellipse cx="149.33" cy="359.61" rx="1.5" ry="2.0" fill="#e6621f"/>
<ellipse cx="150.16" cy="376.74" rx="1.5" ry="2.0" fill="#e6621f"/>
<ellipse cx="149.27" cy="349.53" rx="1.5" ry="2.0" fill="#e6621f"/>
<ellipse cx="148.25" cy="359.60" rx="1.5" ry="2.0" fill="#e6621f"/>
<ellipse cx="158.73" cy="374.07" rx="1.5" ry="2.0" fill="#e6621f"/>
<ellipse cx="156.66" cy="377.43" rx="1.5" ry="2.0" fill="#e6621f"/>
<ellipse cx="159.14" cy="357.71" rx="1.5" ry="2.0" fill="#e6621f"/>
<ellipse cx="149.82" cy="375.61" rx="1.5" ry="2.0" fill="#e6621f"/>
<ellipse cx="156.83" cy="348.94" rx="1.5" ry="2.0" fill="#e6621f"/>
<ellipse cx="155.81" cy="359.17" rx="1.5" ry="2.0" fill="#e6621f"/>
<ellipse cx="152.17" cy="357.79" rx="1.5" ry="2.0" fill="#e6621f"/>
<ellipse cx="149.62" cy="348.08" rx="1.5" ry="2.0" fill="#e6621f"/>
<ellipse cx="151.00" cy="358.37" rx="1.5" ry="2.0" fill="#e6621f"/>
<ellipse cx="159.44" cy="351.65" rx="1.5" ry="2.0" fill="#e6621f"/>
<ellipse cx="159.55" cy="354.12" rx="1.5" ry="2.0" fill="#e6621f"/>
<ellipse cx="151.96" cy="372.24" rx="1.5" ry="2.0" fill="#e6621f"/>
<ellipse cx="157.78" cy="360.76" rx="1.5" ry="2.0" fill="#e6621f"/>
<ellipse cx="148.12" cy="361.97" rx="1.5" ry="2.0" fill="#e6621f"/>
<ellipse cx="152.16" cy="375.13" rx="1.5" ry="2.0" fill="#e6621f"/>
<ellipse cx="149.91" cy="358.75" rx="1.5" ry="2.0" fill="#e6621f"/>
<ellipse cx="158.71" cy="348.89" rx="1.5" ry="2.0" fill="#e6621f"/>
<ellipse cx="152.64" cy="371.95" rx="1.5" ry="2.0" fill="#e6621f"/>
<ellipse cx="157.08" cy="349.20" rx="1.5" ry="2.0" fill="#e6621f"/>
<ellipse cx="147.94" cy="349.85" rx="1.5" ry="2.0" fill="#e6621f"/>
<ellipse cx="159.00" cy="355.58" rx="1.5" ry="2.0" fill="#e6621f"/>
<ellipse cx="156.84" cy="374.51" rx="1.5" ry="2.0" fill="#e6621f"/>
<ellipse cx="151.74" cy="356.03" rx="1.5" ry="2.0" fill="#e6621f"/>
<ellipse cx="159.47" cy="366.20" rx="1.5" ry="2.0" fill="#e6621f"/>
<ellipse cx="150.78" cy="369.14" rx="1.5" ry="2.0" fill="#e6621f"/>
<ellipse cx="151.46" cy="356.13" rx="1.5" ry="2.0" fill="#e6621f"/>
<ellipse cx="147.55" cy="370.29" rx="1.5" ry="2.0" fill="#e6621f"/>
<ellipse cx="158.96" cy="366.70" rx="1.5" ry="2.0" fill="#e6621f"/>
<ellipse cx="159.29" cy="348.72" rx="1.5" ry="2.0" fill="#e6621f"/>
<ellipse cx="150.42" cy="362.02" rx="1.5" ry="2.0" fill="#e6621f"/>
<ellipse cx="159.46" cy="376.14" rx="1.5" ry="2.0" fill="#e6621f"/>
<ellipse cx="152.33" cy="355.41" rx="1.5" ry="2.0" fill="#e6621f"/>
<ellipse cx="152.87" cy="362.56" rx="1.5" ry="2.0" fill="#e6621f"/>
<ellipse cx="159.10" cy="353.40" rx="1.5" ry="2.0" fill="#e6621f"/>
<ellipse cx="157.53" cy="369.79" rx="1.5" ry="2.0" fill="#e6621f"/>
<ellipse cx="157.78" cy="370.80" rx="1.5" ry="2.0" fill="#e6621f"/>
<ellipse cx="155.09" cy="357.67" rx="1.5" ry="2.0" fill="#e6621f"/>
<ellipse cx="151.49" cy="358.67" rx="1.5" ry="2.0" fill="#e6621f"/>
<ellipse cx="157.28" cy="350.33" rx="1.5" ry="2.0" fill="#e6621f"/>
<ellipse cx="149.97" cy="370.21" rx="1.5" ry="2.0" fill="#e6621f"/>
<ellipse cx="150.59" cy="349.91" rx="1.5" ry="2.0" fill="#e6621f"/>
<ellipse cx="147.92" cy="364.30" rx="1.5" ry="2.0" fill="#e6621f"/>
<ellipse cx="151.57" cy="376.92" rx="1.5" ry="2.0" fill="#e6621f"/>
<ellipse cx="158.54" cy="377.14" rx="1.5" ry="2.0" fill="#e6621f"/>
<ellipse cx="150.81" cy="350.48" rx="1.5" ry="2.0" fill="#e6621f"/>
<ellipse cx="148.71" cy="362.71" rx="1.5" ry="2.0" fill="#e6621f"/>
<ellipse cx="156.37" cy="361.19" rx="1.5" ry="2.0" fill="#e6621f"/>
<ellipse cx="150.43" cy="360.30" rx="1.5" ry="2.0" fill="#e6621f"/>
<ellipse cx="155.25" cy="367.89" rx="1.5" ry="2.0" fill="#e6621f"/>
<ellipse cx="156.85" cy="372.99" rx="1.5" ry="2.0" fill="#e6621f"/>
<ellipse cx="155.81" cy="351.57" rx="1.5" ry="2.0" fill="#e6621f"/>
<ellipse cx="158.01" cy="356.67" rx="1.5" ry="2.0" fill="#e6621f"/>
<ellipse cx="154.59" cy="359.00" rx="1.5" ry="2.0" fill="#e6621f"/>
<ellipse cx="156.73" cy="353.88" rx="1.5" ry="2.0" fill="#e6621f"/>
<ellipse cx="150.59" cy="355.24" rx="1.5" ry="2.0" fill="#e6621f"/>
<ellipse cx="149.42" cy="374.08" rx="1.5" ry="2.0" fill="#e6621f"/>
<ellipse cx="154.73" cy="357.63" rx="1.5" ry="2.0" fill="#e6621f"/>
<ellipse cx="152.45" cy="377.28" rx="1.5" ry="2.0" fill="#e6621f"/>
<ellipse cx="153.84" cy="354.83" rx="1.5" ry="2.0" fill="#e6621f"/>
<ellipse cx="157.61" cy="367.27" rx="1.5" ry="2.0" fill="#e6621f"/>
<ellipse cx="159.89" cy="351.02" rx="1.5" ry="2.0" fill="#e6621f"/>
<ellipse cx="153.43" cy="372.16" rx="1.5" ry="2.0" fill="#e6621f"/>
<ellipse cx="158.01" cy="374.97" rx="1.5" ry="2.0" fill="#e6621f"/>
<ellipse cx="148.00" cy="356.66" rx="1.5" ry="2.0" fill="#e6621f"/>
<ellipse cx="148.99" cy="353.59" rx="1.5" ry="2.0" fill="#e6621f"/>
<ellipse cx="159.66" cy="365.20" rx="1.5" ry="2.0" fill="#e6621f"/>
<ellipse cx="159.13" cy="358.98" rx="1.5" ry="2.0" fill="#e6621f"/>
<ellipse cx="158.33" cy="361.25" rx="1.5" ry="2.0" fill="#e6621f"/>
<ellipse cx="150.75" cy="370.94" rx="1.5" ry="2.0" fill="#e6621f"/>
<ellipse cx="159.32" cy="351.12" rx="1.5" ry="2.0" fill="#e6621f"/>
<ellipse cx="154.95" cy="366.29" rx="1.5" ry="2.0" fill="#e6621f"/>
<ellipse cx="150.22" cy="358.88" rx="1.5" ry="2.0" fill="#e6621f"/>
<ellipse cx="149.27" cy="354.02" rx="1.5" ry="2.0" fill="#e6621f"/>
<ellipse cx="150.69" cy="365.68" rx="1.5" ry="2.0" fill="#e6621f"/>
<ellipse cx="155.65" cy="354.00" rx="1.5" ry="2.0" fill="#e6621f"/>
<ellipse cx="147.64" cy="357.65" rx="1.5" ry="2.0" fill="#e6621f"/>
<ellipse cx="155.98" cy="353.46" rx="1.5" ry="2.0" fill="#e6621f"/>
<ellipse cx="151.40" cy="354.00" rx="1.5" ry="2.0" fill="#e6621f"/>
<ellipse cx="157.44" cy="364.17" rx="1.5" ry="2.0" fill="#e6621f"/>
<ellipse cx="148.29" cy="350.99" rx="1.5" ry="2.0" fill="#e6621f"/>
<ellipse cx="152.44" cy="364.23" rx="1.5" ry="2.0" fill="#e6621f"/>
<ellipse cx="155.49" cy="350.69" rx="1.5" ry="2.0" fill="#e6621f"/>
<ellipse cx="149.55" cy="368.51" rx="1.5" ry="2.0" fill="#e6621f"/>
<ellipse cx="152.62" cy="356.36" rx="1.5" ry="2.0" fill="#e6621f"/>
<ellipse cx="151.34" cy="376.12" rx="1.5" ry="2.0" fill="#e6621f"/>
<ellipse cx="151.40" cy="364.71" rx="1.5" ry="2.0" fill="#e6621f"/>
<ellipse cx="151.96" cy="360.29" rx="1.5" ry="2.0" fill="#e6621f"/>
<ellipse cx="158.30" cy="377.40" rx="1.5" ry="2.0" fill="#e6621f"/>
<ellipse cx="152.05" cy="353.82" rx="1.5" ry="2.0" fill="#e6621f"/>
<ellipse cx="156.60" cy="354.01" rx="1.5" ry="2.0" fill="#e6621f"/>
<ellipse cx="147.57" cy="374.60" rx="1.5" ry="2.0" fill="#e6621f"/>
<ellipse cx="152.80" cy="372.20" rx="1.5" ry="2.0" fill="#e6621f"/>
<ellipse cx="152.58" cy="374.04" rx="1.5" ry="2.0" fill="#e6621f"/>
<ellipse cx="153.26" cy="352.80" rx="1.5" ry="2.0" fill="#e6621f"/>
<ellipse cx="147.69" cy="364.27" rx="1.5" ry="2.0" fill="#e6621f"/>
<ellipse cx="155.51" cy="374.84" rx="1.5" ry="2.0" fill="#e6621f"/>
<ellipse cx="148.61" cy="366.35" rx="1.5" ry="2.0" fill="#e6621f"/>
<ellipse cx="152.14" cy="362.88" rx="1.5" ry="2.0" fill="#e6621f"/>
<ellipse cx="149.32" cy="356.36" rx="1.5" ry="2.0" fill="#e6621f"/>
<ellipse cx="154.01" cy="375.30" rx="1.5" ry="2.0" fill="#e6621f"/>
<ellipse cx="148.86" cy="362.47" rx="1.5" ry="2.0" fill="#e6621f"/>
<ellipse cx="157.56" cy="376.52" rx="1.5" ry="2.0" fill="#e6621f"/>
<ellipse cx="149.97" cy="351.74" rx="1.5" ry="2.0" fill="#e6621f"/>
<ellipse cx="159.29" cy="376.78" rx="1.5" ry="2.0" fill="#e6621f"/>
<ellipse cx="153.53" cy="349.57" rx="1.5" ry="2.0" fill="#e6621f"/>
<ellipse cx="159.08" cy="359.44" rx="1.5" ry="2.0" fill="#e6621f"/>
<ellipse cx="158.80" cy="366.30" rx="1.5" ry="2.0" fill="#e6621f"/>
<ellipse cx="157.81" cy="352.73" rx="1.5" ry="2.0" fill="#e6621f"/>
<ellipse cx="157.32" cy="354.55" rx="1.5" ry="2.0" fill="#e6621f"/>
<ellipse cx="152.56" cy="372.97" rx="1.5" ry="2.0" fill="#e6621f"/>
<ellipse cx="157.86" cy="353.40" rx="1.5" ry="2.0" fill="#e6621f"/>
<ellipse cx="150.23" cy="359.79" rx="1.5" ry="2.0" fill="#e6621f"/>
<ellipse cx="153.97" cy="359.32" rx="1.5" ry="2.0" fill="#e6621f"/>
<ellipse cx="149.04" cy="355.29" rx="1.5" ry="2.0" fill="#e6621f"/>
<ellipse cx="156.56" cy="374.47" rx="1.5" ry="2.0" fill="#e6621f"/>
<ellipse cx="148.01" cy="364.59" rx="1.5" ry="2.0" fill="#e6621f"/>
<ellipse cx="156.97" cy="349.12" rx="1.5" ry="2.0" fill="#e6621f"/>
<ellipse cx="157.98" cy="351.47" rx="1.5" ry="2.0" fill="#e6621f"/>
<ellipse cx="154.99" cy="364.23" rx="1.5" ry="2.0" fill="#e6621f"/>
<ellipse cx="155.34" cy="357.03" rx="1.5" ry="2.0" fill="#e6621f"/>
<ellipse cx="152.75" cy="365.19" rx="1.5" ry="2.0" fill="#e6621f"/>
<ellipse cx="152.82" cy="367.44" rx="1.5" ry="2.0" fill="#e6621f"/>
<ellipse cx="153.08" cy="360.93" rx="1.5" ry="2.0" fill="#e6621f"/>
<ellipse cx="147.79" cy="366.26" rx="1.5" ry="2.0" fill="#e6621f"/>
<ellipse cx="153.62" cy="354.94" rx="1.5" ry="2.0" fill="#e6621f"/>
<ellipse cx="157.04" cy="371.01" rx="1.5" ry="2.0" fill="#e6621f"/>
<ellipse cx="153.23" cy="353.30" rx="1.5" ry="2.0" fill="#e6621f"/>
<ellipse cx="153.42" cy="351.16" rx="1.5" ry="2.0" fill="#e6621f"/>
<ellipse cx="149.11" cy="360.70" rx="1.5" ry="2.0" fill="#e6621f"/>
<ellipse cx="148.65" cy="361.04" rx="1.5" ry="2.0" fill="#e6621f"/>
<ellipse cx="153.88" cy="349.20" rx="1.5" ry="2.0" fill="#e6621f"/>
<ellipse cx="155.46" cy="350.43" rx="1.5" ry="2.0" fill="#e6621f"/>
<ellipse cx="156.67" cy="370.94" rx="1.5" ry="2.0" fill="#e6621f"/>
<ellipse cx="153.89" cy="349.60" rx="1.5" ry="2.0" fill="#e6621f"/>
<ellipse cx="153.80" cy="359.15" rx="1.5" ry="2.0" fill="#e6621f"/>
<ellipse cx="159.39" cy="352.02" rx="1.5" ry="2.0" fill="#e6621f"/>
<ellipse cx="158.21" cy="377.39" rx="1.5" ry="2.0" fill="#e6621f"/>
<ellipse cx="156.65" cy="372.04" rx="1.5" ry="2.0" fill="#e6621f"/>
<ellipse cx="149.92" cy="376.96" rx="1.5" ry="2.0" fill="#e6621f"/>
<ellipse cx="153.65" cy="376.22" rx="1.5" ry="2.0" fill="#e6621f"/>
<ellipse cx="158.95" cy="352.87" rx="1.5" ry="2.0" fill="#e6621f"/>
<ellipse cx="157.35" cy="375.45" rx="1.5" ry="2.0" fill="#e6621f"/>
<ellipse cx="148.32" cy="358.35" rx="1.5" ry="2.0" fill="#e6621f"/>
<ellipse cx="156.95" cy="352.68" rx="1.5" ry="2.0" fill="#e6621f"/>
<ellipse cx="158.71" cy="356.11" rx="1.5" ry="2.0" fill="#e6621f"/>
<ellipse cx="157.70" cy="352.24" rx="1.5" ry="2.0" fill="#e6621f"/>
<ellipse cx="153.78" cy="375.14" rx="1.5" ry="2.0" fill="#e6621f"/>
<ellipse cx="150.10" cy="355.75" rx="1.5" ry="2.0" fill="#e6621f"/>
<ellipse cx="153.83" cy="357.41" rx="1.5" ry="2.0" fill="#e6621f"/>
<ellipse cx="147.96" cy="353.37" rx="1.5" ry="2.0" fill="#e6621f"/>
<ellipse cx="149.52" cy="375.62" rx="1.5" ry="2.0" fill="#e6621f"/>
<ellipse cx="156.00" cy="374.41" rx="1.5" ry="2.0" fill="#e6621f"/>
<ellipse cx="149.61" cy="371.15" rx="1.5" ry="2.0" fill="#e6621f"/>
<ellipse cx="148.94" cy="363.66" rx="1.5" ry="2.0" fill="#e6621f"/>
<ellipse cx="155.45" cy="358.61" rx="1.5" ry="2.0" fill="#e6621f"/>
<ellipse cx="158.41" cy="364.38" rx="1.5" ry="2.0" fill="#e6621f"/>
<ellipse cx="154.75" cy="374.03" rx="1.5" ry="2.0" fill="#e6621f"/>
<ellipse cx="148.81" cy="377.29" rx="1.5" ry="2.0" fill="#e6621f"/>
<ellipse cx="155.37" cy="359.63" rx="1.5" ry="2.0" fill="#e6621f"/>
<ellipse cx="157.47" cy="355.81" rx="1.5" ry="2.0" fill="#e6621f"/>
<ellipse cx="159.88" cy="365.03" rx="1.5" ry="2.0" fill="#e6621f"/>
<ellipse cx="152.00" cy="370.56" rx="1.5" ry="2.0" fill="#e6621f"/>
<ellipse cx="153.03" cy="353.21" rx="1.5" ry="2.0" fill="#e6621f"/>
<ellipse cx="156.79" cy="349.42" rx="1.5" ry="2.0" fill="#e6621f"/>
<ellipse cx="157.75" cy="355.48" rx="1.5" ry="2.0" fill="#e6621f"/>
<ellipse cx="155.49" cy="377.03" rx="1.5" ry="2.0" fill="#e6621f"/>
<ellipse cx="154.82" cy="367.58" rx="1.5" ry="2.0" fill="#e6621f"/>
<ellipse cx="151.41" cy="348.05" rx="1.5" ry="2.0" fill="#e6621f"/>
<ellipse cx="147.92" cy="352.41" rx="1.5" ry="2.0" fill="#e6621f"/>
<ellipse cx="155.20" cy="360.75" rx="1.5" ry="2.0" fill="#e6621f"/>
<ellipse cx="153.91" cy="374.42" rx="1.5" ry="2.0" fill="#e6621f"/>
<ellipse cx="149.15" cy="354.70" rx="1.5" ry="2.0" fill="#e6621f"/>
<ellipse cx="155.66" cy="348.66" rx="1.5" ry="2.0" fill="#e6621f"/>
<ellipse cx="147.53" cy="358.47" rx="1.5" ry="2.0" fill="#e6621f"/>
<ellipse cx="148.83" cy="358.54" rx="1.5" ry="2.0" fill="#e6621f"/>
<ellipse cx="150.30" cy="365.22" rx="1.5" ry="2.0" fill="#e6621f"/>
<ellipse cx="154.86" cy="354.02" rx="1.5" ry="2.0" fill="#e6621f"/>
<ellipse cx="155.30" cy="362.01" rx="1.5" ry="2.0" fill="#e6621f"/>
<ellipse cx="149.18" cy="375.63" rx="1.5" ry="2.0" fill="#e6621f"/>
<ellipse cx="150.54" cy="352.40" rx="1.5" ry="2.0" fill="#e6621f"/>
<ellipse cx="148.70" cy="366.83" rx="1.5" ry="2.0" fill="#e6621f"/>
<line x1="168.70" y1="337.40" x2="168.70" y2="352.50" stroke="#2a2a2a" stroke-width="1.2" />
<line x1="168.70" y1="364.70" x2="168.70" y2="377.20" stroke="#2a2a2a" stroke-width="1.2" />
<line x1="165.70" y1="337.40" x2="172.00" y2="337.40" stroke="#2a2a2a" stroke-width="1.56" />
<line x1="165.70" y1="377.20" x2="172.00" y2="377.20" stroke="#2a2a2a" stroke-width="1.56" />
<rect x="162.40" y="352.50" width="12.80" height="12.20" fill="#e8652a" stroke="#2a2a2a" stroke-width="1.2"/>
<line x1="162.40" y1="356.20" x2="175.20" y2="356.20" stroke="#3a1e10" stroke-width="1.6" />
<line x1="94.60" y1="391.20" x2="168.50" y2="391.20" stroke="#444" stroke-width="1.1" />
<line x1="94.60" y1="389.00" x2="94.60" y2="393.60" stroke="#444" stroke-width="1" />
<line x1="168.50" y1="389.00" x2="168.50" y2="393.60" stroke="#444" stroke-width="1" />
<ellipse cx="305" cy="309.5" rx="7" ry="6.9" fill="url(#pg)" stroke="#2a0a0a" stroke-width="1.0"/>
<line x1="305.00" y1="309.50" x2="305.00" y2="316.20" stroke="#111" stroke-width="1.4" />
<line x1="230.00" y1="322.20" x2="230.00" y2="400.80" stroke="#999" stroke-width="1.3" />
<line x1="224.20" y1="324.40" x2="227.60" y2="324.40" stroke="#666" stroke-width="1" />
<line x1="224.20" y1="335.20" x2="227.60" y2="335.20" stroke="#666" stroke-width="1" />
<line x1="224.20" y1="348.20" x2="227.60" y2="348.20" stroke="#666" stroke-width="1" />
<line x1="224.20" y1="361.90" x2="227.60" y2="361.90" stroke="#666" stroke-width="1" />
<line x1="224.20" y1="373.50" x2="227.60" y2="373.50" stroke="#666" stroke-width="1" />
<line x1="224.20" y1="385.70" x2="227.60" y2="385.70" stroke="#666" stroke-width="1" />
<line x1="224.20" y1="397.50" x2="227.60" y2="397.50" stroke="#666" stroke-width="1" />
<line x1="236.60" y1="323.90" x2="412.30" y2="323.90" stroke="#c4c4c4" stroke-width="1" stroke-dasharray="3.6,2.6"/>
<line x1="236.60" y1="340.00" x2="412.30" y2="340.00" stroke="#c4c4c4" stroke-width="1" stroke-dasharray="3.6,2.6"/>
<line x1="236.60" y1="349.50" x2="412.30" y2="349.50" stroke="#c4c4c4" stroke-width="1" stroke-dasharray="3.6,2.6"/>
<line x1="236.60" y1="360.80" x2="412.30" y2="360.80" stroke="#c4c4c4" stroke-width="1" stroke-dasharray="3.6,2.6"/>
<line x1="236.60" y1="384.40" x2="412.30" y2="384.40" stroke="#c4c4c4" stroke-width="1" stroke-dasharray="3.6,2.6"/>
<line x1="236.60" y1="396.30" x2="412.30" y2="396.30" stroke="#c4c4c4" stroke-width="1" stroke-dasharray="3.6,2.6"/>
<line x1="236.80" y1="372.90" x2="412.30" y2="372.90" stroke="#111" stroke-width="1.6" />
<line x1="416.70" y1="322.00" x2="416.70" y2="404.00" stroke="#555" stroke-width="1" />
<line x1="236.20" y1="400.30" x2="412.20" y2="400.30" stroke="#777" stroke-width="1.2" />
<line x1="236.30" y1="400.30" x2="236.30" y2="403.50" stroke="#777" stroke-width="1" />
<line x1="280.10" y1="400.30" x2="280.10" y2="403.50" stroke="#777" stroke-width="1" />
<line x1="323.90" y1="400.30" x2="323.90" y2="403.50" stroke="#777" stroke-width="1" />
<line x1="367.70" y1="400.30" x2="367.70" y2="403.50" stroke="#777" stroke-width="1" />
<line x1="411.50" y1="400.30" x2="411.50" y2="403.50" stroke="#777" stroke-width="1" />
<line x1="242.25" y1="330.60" x2="242.25" y2="335.90" stroke="#111" stroke-width="1.5" />
<polygon points="239.95,331.60 242.25,327.60 244.55,331.60" fill="#111"/>
<line x1="245.70" y1="381.30" x2="245.70" y2="386.90" stroke="#111" stroke-width="1.5" />
<polygon points="243.40,385.90 245.70,389.90 248.00,385.90" fill="#111"/>
<polyline points="236.60,372.20 240.30,371.80 241.50,367.00 242.50,362.00 244.10,358.90 245.30,360.00 246.20,366.00 247.30,374.10 248.80,373.20 250.60,368.50 252.50,371.30 255.30,366.60 258.10,364.70 261.00,361.00 262.80,357.80 264.70,364.70 266.60,361.90 270.30,357.20 273.20,355.30 276.90,351.60 278.80,349.70 280.70,355.30 283.50,352.50 286.30,347.80 289.10,345.00 292.90,342.20 294.70,339.40 297.50,341.30 300.40,338.50 304.50,336.40 307.90,339.80 310.10,337.50 312.40,338.60 314.60,332.60 316.90,341.60 320.30,337.50 323.60,335.30 329.30,333.00 337.20,328.10 340.50,329.00 341.70,338.60 343.90,338.60 346.20,340.90 351.80,341.60 357.40,343.80 359.70,343.20 363.10,348.80 365.30,347.70 367.60,343.20 370.90,334.10 374.30,334.10 377.70,333.50 380.00,336.40 383.30,342.50 386.70,339.80 390.10,337.50 394.60,337.50 399.10,336.40 401.40,335.70 402.50,339.80 405.90,338.60 408.10,337.00" fill="none" stroke="#1a1a1a" stroke-width="1.7" stroke-linejoin="round" stroke-linecap="round"/>
</g>
<text id="t0" x="73.96" y="23.50" font-family="&quot;Liberation Sans&quot;, sans-serif" font-size="9.744" font-weight="normal" fill="#333" stroke="#333" stroke-width="0.3" textLength="22.32" lengthAdjust="spacingAndGlyphs">5000</text>
<text id="t1" x="75.52" y="52.74" font-family="&quot;Liberation Sans&quot;, sans-serif" font-size="9.744" font-weight="normal" fill="#333" stroke="#333" stroke-width="0.3" textLength="20.19" lengthAdjust="spacingAndGlyphs">4000</text>
<text id="t2" x="74.72" y="81.98" font-family="&quot;Liberation Sans&quot;, sans-serif" font-size="9.744" font-weight="normal" fill="#333" stroke="#333" stroke-width="0.3" textLength="20.91" lengthAdjust="spacingAndGlyphs">3000</text>
<text id="t3" x="74.72" y="111.00" font-family="&quot;Liberation Sans&quot;, sans-serif" font-size="9.744" font-weight="normal" fill="#333" stroke="#333" stroke-width="0.3" textLength="20.91" lengthAdjust="spacingAndGlyphs">2000</text>
<text id="t4" x="74.72" y="140.50" font-family="&quot;Liberation Sans&quot;, sans-serif" font-size="9.744" font-weight="normal" fill="#333" stroke="#333" stroke-width="0.3" textLength="20.96" lengthAdjust="spacingAndGlyphs">1000</text>
<text id="t5" x="89.00" y="168.02" font-family="&quot;Liberation Sans&quot;, sans-serif" font-size="9.744" font-weight="normal" fill="#333" stroke="#333" stroke-width="0.3" textLength="5.48" lengthAdjust="spacingAndGlyphs">0</text>
<text id="t6" transform="translate(63.48,133.82) rotate(-90)" x="0" y="0" font-family="&quot;Liberation Sans&quot;, sans-serif" font-size="13.024" font-weight="normal" fill="#222" stroke="#222" stroke-width="0.35" textLength="80.71" lengthAdjust="spacingAndGlyphs">Peso al nacer</text>
<text id="t7" x="104.24" y="178.74" font-family="&quot;Liberation Sans&quot;, sans-serif" font-size="10.007" font-weight="bold" fill="#222" textLength="29.16" lengthAdjust="spacingAndGlyphs">fallece</text>
<text id="t8" x="182.22" y="179.52" font-family="&quot;Liberation Sans&quot;, sans-serif" font-size="10.007" font-weight="bold" fill="#222" textLength="18.51" lengthAdjust="spacingAndGlyphs">vivo</text>
<text id="t9" x="90.22" y="194.20" font-family="&quot;Liberation Sans&quot;, sans-serif" font-size="5.600" font-weight="normal" fill="#383838" textLength="45.23" lengthAdjust="spacingAndGlyphs">M*:2003,6 (grs)</text>
<text id="t10" x="74.46" y="201.70" font-family="&quot;Liberation Sans&quot;, sans-serif" font-size="5.600" font-weight="normal" fill="#383838" textLength="75.61" lengthAdjust="spacingAndGlyphs">IC 95%:1844,2-2163 (grs)</text>
<text id="t11" x="172.46" y="193.92" font-family="&quot;Liberation Sans&quot;, sans-serif" font-size="5.600" font-weight="normal" fill="#383838" textLength="46.42" lengthAdjust="spacingAndGlyphs">M*:2316,7 (grs)</text>
<text id="t12" x="155.46" y="201.42" font-family="&quot;Liberation Sans&quot;, sans-serif" font-size="5.600" font-weight="normal" fill="#383838" textLength="81.34" lengthAdjust="spacingAndGlyphs">IC 95%:2229,7-2403,7 (grs)</text>
<text id="t13" x="94.48" y="225.32" font-family="&quot;Liberation Sans&quot;, sans-serif" font-size="12.961" font-weight="normal" fill="#222" stroke="#222" stroke-width="0.25" textLength="115.59" lengthAdjust="spacingAndGlyphs">Condición al egreso</text>
<text id="t14" x="249.70" y="13.52" font-family="&quot;Liberation Sans&quot;, sans-serif" font-size="15.675" font-weight="bold" fill="#111" textLength="13.74" lengthAdjust="spacingAndGlyphs">A</text>
<text id="t15" x="257.20" y="45.76" font-family="&quot;Liberation Sans&quot;, sans-serif" font-size="8.200" font-weight="normal" fill="#555" textLength="10.82" lengthAdjust="spacingAndGlyphs">BF</text>
<text id="t16" x="267.94" y="47.00" font-family="&quot;Liberation Sans&quot;, sans-serif" font-size="8.200" font-weight="bold" fill="#444" textLength="9.22" lengthAdjust="spacingAndGlyphs">10</text>
<text id="t17" x="279.00" y="48.10" font-family="&quot;Liberation Sans&quot;, sans-serif" font-size="11.581" font-weight="bold" fill="#444" textLength="6.00" lengthAdjust="spacingAndGlyphs">=</text>
<text id="t18" x="287.44" y="45.74" font-family="&quot;Liberation Sans&quot;, sans-serif" font-size="7.905" font-weight="normal" fill="#555" textLength="18.16" lengthAdjust="spacingAndGlyphs">35.2</text>
<text id="t19" x="328.02" y="35.40" font-family="&quot;Liberation Mono&quot;, monospace" font-size="7.000" font-weight="bold" fill="#505050" stroke="#505050" stroke-width="0.35" textLength="33.36" lengthAdjust="spacingAndGlyphs">data | H1</text>
<text id="t20" x="328.02" y="61.54" font-family="&quot;Liberation Mono&quot;, monospace" font-size="7.000" font-weight="bold" fill="#505050" stroke="#505050" stroke-width="0.35" textLength="33.43" lengthAdjust="spacingAndGlyphs">data | H0</text>
<text id="t21" x="233.50" y="72.00" font-family="&quot;Liberation Sans&quot;, sans-serif" font-size="7.816" font-weight="normal" fill="#555" textLength="12.03" lengthAdjust="spacingAndGlyphs">100</text>
<text id="t22" x="238.50" y="85.74" font-family="&quot;Liberation Sans&quot;, sans-serif" font-size="7.816" font-weight="normal" fill="#555" textLength="7.41" lengthAdjust="spacingAndGlyphs">30</text>
<text id="t23" x="237.46" y="98.52" font-family="&quot;Liberation Sans&quot;, sans-serif" font-size="7.816" font-weight="normal" fill="#555" textLength="8.62" lengthAdjust="spacingAndGlyphs">10</text>
<text id="t24" x="242.50" y="111.48" font-family="&quot;Liberation Sans&quot;, sans-serif" font-size="7.816" font-weight="normal" fill="#555" textLength="3.71" lengthAdjust="spacingAndGlyphs">3</text>
<text id="t25" x="242.74" y="124.74" font-family="&quot;Liberation Sans&quot;, sans-serif" font-size="7.816" font-weight="normal" fill="#555" textLength="3.34" lengthAdjust="spacingAndGlyphs">1</text>
<text id="t26" x="233.72" y="138.24" font-family="&quot;Liberation Sans&quot;, sans-serif" font-size="7.816" font-weight="normal" fill="#555" textLength="12.72" lengthAdjust="spacingAndGlyphs">1/3</text>
<text id="t27" x="228.94" y="152.00" font-family="&quot;Liberation Sans&quot;, sans-serif" font-size="7.816" font-weight="normal" fill="#555" textLength="17.30" lengthAdjust="spacingAndGlyphs">1/10</text>
<text id="t28" x="228.94" y="164.02" font-family="&quot;Liberation Sans&quot;, sans-serif" font-size="7.816" font-weight="normal" fill="#555" textLength="17.30" lengthAdjust="spacingAndGlyphs">1/30</text>
<text id="t29" x="425.46" y="70.38" font-family="&quot;Liberation Sans&quot;, sans-serif" font-size="7.151" font-weight="normal" fill="#333" textLength="35.89" lengthAdjust="spacingAndGlyphs">Muy fuerte</text>
<text id="t30" x="425.46" y="84.76" font-family="&quot;Liberation Sans&quot;, sans-serif" font-size="7.151" font-weight="normal" fill="#333" textLength="19.97" lengthAdjust="spacingAndGlyphs">Fuerte</text>
<text id="t31" x="425.46" y="98.24" font-family="&quot;Liberation Sans&quot;, sans-serif" font-size="7.151" font-weight="normal" fill="#333" textLength="33.73" lengthAdjust="spacingAndGlyphs">Moderado</text>
<text id="t32" x="426.26" y="112.02" font-family="&quot;Liberation Sans&quot;, sans-serif" font-size="7.151" font-weight="normal" fill="#333" textLength="33.61" lengthAdjust="spacingAndGlyphs">Anecdótico</text>
<text id="t33" x="426.26" y="124.26" font-family="&quot;Liberation Sans&quot;, sans-serif" font-size="7.151" font-weight="normal" fill="#333" textLength="33.61" lengthAdjust="spacingAndGlyphs">Anecdótico</text>
<text id="t34" x="425.46" y="137.26" font-family="&quot;Liberation Sans&quot;, sans-serif" font-size="7.151" font-weight="normal" fill="#333" textLength="33.73" lengthAdjust="spacingAndGlyphs">Moderado</text>
<text id="t35" x="425.46" y="151.52" font-family="&quot;Liberation Sans&quot;, sans-serif" font-size="7.151" font-weight="normal" fill="#333" textLength="20.35" lengthAdjust="spacingAndGlyphs">Fuerte</text>
<text id="t36" x="425.46" y="160.86" font-family="&quot;Liberation Sans&quot;, sans-serif" font-size="7.151" font-weight="normal" fill="#333" textLength="34.43" lengthAdjust="spacingAndGlyphs">Muy fuerte</text>
<text id="t37" transform="translate(467.26,99.46) rotate(90)" x="0" y="0" font-family="&quot;Liberation Sans&quot;, sans-serif" font-size="7.374" font-weight="normal" fill="#333" stroke="#333" stroke-width="0.15" textLength="28.92" lengthAdjust="spacingAndGlyphs">Evidencia</text>
<text id="t38" transform="translate(223.46,124.56) rotate(-90)" x="0" y="0" font-family="&quot;Liberation Sans&quot;, sans-serif" font-size="7.919" font-weight="normal" fill="#777" textLength="20.72" lengthAdjust="spacingAndGlyphs">BF10</text>
<text id="t39" x="258.52" y="178.76" font-family="&quot;Liberation Sans&quot;, sans-serif" font-size="8.476" font-weight="normal" fill="#555" textLength="4.65" lengthAdjust="spacingAndGlyphs">0</text>
<text id="t40" x="294.48" y="178.76" font-family="&quot;Liberation Sans&quot;, sans-serif" font-size="8.476" font-weight="normal" fill="#555" textLength="7.99" lengthAdjust="spacingAndGlyphs">50</text>
<text id="t41" x="331.50" y="178.76" font-family="&quot;Liberation Sans&quot;, sans-serif" font-size="8.476" font-weight="normal" fill="#555" textLength="11.88" lengthAdjust="spacingAndGlyphs">100</text>
<text id="t42" x="367.70" y="178.76" font-family="&quot;Liberation Sans&quot;, sans-serif" font-size="8.476" font-weight="normal" fill="#555" textLength="13.68" lengthAdjust="spacingAndGlyphs">150</text>
<text id="t43" x="407.00" y="178.76" font-family="&quot;Liberation Sans&quot;, sans-serif" font-size="8.476" font-weight="normal" fill="#555" textLength="12.42" lengthAdjust="spacingAndGlyphs">200</text>
<text id="t44" x="334.30" y="195.20" font-family="&quot;Liberation Sans&quot;, sans-serif" font-size="7.200" font-weight="normal" fill="#555" textLength="4.52" lengthAdjust="spacingAndGlyphs">n</text>
<text id="t45" x="291.72" y="88.86" font-family="&quot;Liberation Sans&quot;, sans-serif" font-size="6.664" font-weight="normal" fill="#444" textLength="45.90" lengthAdjust="spacingAndGlyphs">Evidencia para</text>
<text id="t46" x="339.88" y="89.48" font-family="&quot;Liberation Sans&quot;, sans-serif" font-size="8.652" font-weight="bold" fill="#333" textLength="5.42" lengthAdjust="spacingAndGlyphs">H</text>
<text id="t47" x="345.28" y="91.42" font-family="&quot;Liberation Sans&quot;, sans-serif" font-size="7.908" font-weight="bold" fill="#333" textLength="4.71" lengthAdjust="spacingAndGlyphs">1</text>
<text id="t48" x="293.50" y="150.86" font-family="&quot;Liberation Sans&quot;, sans-serif" font-size="6.664" font-weight="normal" fill="#444" textLength="45.57" lengthAdjust="spacingAndGlyphs">Evidencia para</text>
<text id="t49" x="340.16" y="152.30" font-family="&quot;Liberation Sans&quot;, sans-serif" font-size="8.652" font-weight="bold" fill="#333" textLength="5.79" lengthAdjust="spacingAndGlyphs">H</text>
<text id="t50" x="346.80" y="155.02" font-family="&quot;Liberation Sans&quot;, sans-serif" font-size="8.574" font-weight="bold" fill="#333" textLength="5.29" lengthAdjust="spacingAndGlyphs">0</text>
<text id="t51" x="63.72" y="268.00" font-family="&quot;Liberation Sans&quot;, sans-serif" font-size="7.892" font-weight="normal" fill="#333" stroke="#333" stroke-width="0.45" textLength="13.44" lengthAdjust="spacingAndGlyphs">150</text>
<text id="t52" x="64.74" y="306.48" font-family="&quot;Liberation Sans&quot;, sans-serif" font-size="7.892" font-weight="normal" fill="#333" stroke="#333" stroke-width="0.45" textLength="12.20" lengthAdjust="spacingAndGlyphs">100</text>
<text id="t53" x="68.76" y="346.00" font-family="&quot;Liberation Sans&quot;, sans-serif" font-size="7.892" font-weight="normal" fill="#333" stroke="#333" stroke-width="0.45" textLength="7.76" lengthAdjust="spacingAndGlyphs">50</text>
<text id="t54" x="71.74" y="384.76" font-family="&quot;Liberation Sans&quot;, sans-serif" font-size="7.892" font-weight="normal" fill="#333" stroke="#333" stroke-width="0.45" textLength="4.96" lengthAdjust="spacingAndGlyphs">0</text>
<text id="t55" transform="translate(60.04,385.28) rotate(-90)" x="0" y="0" font-family="&quot;Liberation Sans&quot;, sans-serif" font-size="13.216" font-weight="normal" fill="#222" stroke="#222" stroke-width="0.35" textLength="119.11" lengthAdjust="spacingAndGlyphs">Días  hospitalización</text>
<text id="t56" x="83.24" y="401.48" font-family="&quot;Liberation Sans&quot;, sans-serif" font-size="7.499" font-weight="bold" fill="#222" textLength="28.47" lengthAdjust="spacingAndGlyphs">fallece</text>
<text id="t57" x="160.76" y="401.48" font-family="&quot;Liberation Sans&quot;, sans-serif" font-size="7.499" font-weight="bold" fill="#222" textLength="18.41" lengthAdjust="spacingAndGlyphs">vivo</text>
<text id="t58" x="79.50" y="415.44" font-family="&quot;Liberation Sans&quot;, sans-serif" font-size="4.700" font-weight="normal" fill="#383838" textLength="36.59" lengthAdjust="spacingAndGlyphs">M* = 20,3 (dias)</text>
<text id="t59" x="69.50" y="422.46" font-family="&quot;Liberation Sans&quot;, sans-serif" font-size="4.700" font-weight="normal" fill="#383838" textLength="56.38" lengthAdjust="spacingAndGlyphs">IC95% = 14,6 - 26,6 (dias)</text>
<text id="t60" x="149.00" y="415.96" font-family="&quot;Liberation Sans&quot;, sans-serif" font-size="4.700" font-weight="normal" fill="#383838" textLength="36.00" lengthAdjust="spacingAndGlyphs">M* = 34,5 (dias)</text>
<text id="t61" x="138.96" y="422.18" font-family="&quot;Liberation Sans&quot;, sans-serif" font-size="4.700" font-weight="normal" fill="#383838" textLength="57.10" lengthAdjust="spacingAndGlyphs">IC95% = 31,2 - 37,9 (dias)</text>
<text id="t62" x="83.94" y="442.82" font-family="&quot;Liberation Sans&quot;, sans-serif" font-size="12.961" font-weight="normal" fill="#222" stroke="#222" stroke-width="0.25" textLength="115.61" lengthAdjust="spacingAndGlyphs">Condición al egreso</text>
<text id="t63" x="248.90" y="258.00" font-family="&quot;Liberation Sans&quot;, sans-serif" font-size="17.403" font-weight="bold" fill="#111" textLength="14.99" lengthAdjust="spacingAndGlyphs">B</text>
<text id="t64" x="237.74" y="309.26" font-family="&quot;Liberation Sans&quot;, sans-serif" font-size="6.110" font-weight="normal" fill="#333" textLength="8.39" lengthAdjust="spacingAndGlyphs">BF</text>
<text id="t65" x="245.70" y="310.76" font-family="&quot;Liberation Sans&quot;, sans-serif" font-size="5.200" font-weight="normal" fill="#333" textLength="7.16" lengthAdjust="spacingAndGlyphs">10</text>
<text id="t66" x="253.50" y="309.26" font-family="&quot;Liberation Sans&quot;, sans-serif" font-size="6.110" font-weight="normal" fill="#333" textLength="14.12" lengthAdjust="spacingAndGlyphs">= 204</text>
<text id="t67" x="294.28" y="301.10" font-family="&quot;Liberation Sans&quot;, sans-serif" font-size="5.200" font-weight="bold" fill="#444" stroke="#444" stroke-width="0.1" textLength="22.64" lengthAdjust="spacingAndGlyphs">data | H1</text>
<text id="t68" x="294.28" y="321.62" font-family="&quot;Liberation Sans&quot;, sans-serif" font-size="5.200" font-weight="bold" fill="#444" stroke="#444" stroke-width="0.1" textLength="22.19" lengthAdjust="spacingAndGlyphs">data | H0</text>
<text id="t69" x="205.48" y="327.74" font-family="&quot;Liberation Sans&quot;, sans-serif" font-size="6.110" font-weight="normal" fill="#555" textLength="15.32" lengthAdjust="spacingAndGlyphs">10000</text>
<text id="t70" x="207.94" y="338.02" font-family="&quot;Liberation Sans&quot;, sans-serif" font-size="6.110" font-weight="normal" fill="#555" textLength="13.66" lengthAdjust="spacingAndGlyphs">1000</text>
<text id="t71" x="211.20" y="351.98" font-family="&quot;Liberation Sans&quot;, sans-serif" font-size="6.110" font-weight="normal" fill="#555" textLength="10.30" lengthAdjust="spacingAndGlyphs">100</text>
<text id="t72" x="215.72" y="364.52" font-family="&quot;Liberation Sans&quot;, sans-serif" font-size="6.110" font-weight="normal" fill="#555" textLength="5.51" lengthAdjust="spacingAndGlyphs">10</text>
<text id="t73" x="218.48" y="376.00" font-family="&quot;Liberation Sans&quot;, sans-serif" font-size="6.110" font-weight="normal" fill="#555" textLength="3.29" lengthAdjust="spacingAndGlyphs">1</text>
<text id="t74" x="206.98" y="388.00" font-family="&quot;Liberation Sans&quot;, sans-serif" font-size="6.110" font-weight="normal" fill="#555" textLength="14.22" lengthAdjust="spacingAndGlyphs">1 / 10</text>
<text id="t75" x="202.94" y="400.02" font-family="&quot;Liberation Sans&quot;, sans-serif" font-size="6.110" font-weight="normal" fill="#555" textLength="17.99" lengthAdjust="spacingAndGlyphs">1 / 100</text>
<text id="t76" x="419.04" y="338.80" font-family="&quot;Liberation Sans&quot;, sans-serif" font-size="18.979" font-weight="normal" fill="#333" textLength="1.85" lengthAdjust="spacingAndGlyphs">-</text>
<text id="t77" x="422.74" y="334.64" font-family="&quot;Liberation Sans&quot;, sans-serif" font-size="8.244" font-weight="normal" fill="#333" textLength="35.20" lengthAdjust="spacingAndGlyphs">Muy fuerte</text>
<text id="t78" x="419.04" y="352.04" font-family="&quot;Liberation Sans&quot;, sans-serif" font-size="19.819" font-weight="normal" fill="#333" textLength="1.85" lengthAdjust="spacingAndGlyphs">-</text>
<text id="t79" x="422.74" y="350.52" font-family="&quot;Liberation Sans&quot;, sans-serif" font-size="8.244" font-weight="normal" fill="#333" textLength="20.21" lengthAdjust="spacingAndGlyphs">Fuerte</text>
<text id="t80" x="419.04" y="365.76" font-family="&quot;Liberation Sans&quot;, sans-serif" font-size="18.979" font-weight="normal" fill="#333" textLength="1.85" lengthAdjust="spacingAndGlyphs">-</text>
<text id="t81" x="422.74" y="363.02" font-family="&quot;Liberation Sans&quot;, sans-serif" font-size="8.244" font-weight="normal" fill="#333" textLength="33.36" lengthAdjust="spacingAndGlyphs">Moderado</text>
<text id="t82" x="419.04" y="377.80" font-family="&quot;Liberation Sans&quot;, sans-serif" font-size="18.979" font-weight="normal" fill="#333" textLength="1.85" lengthAdjust="spacingAndGlyphs">-</text>
<text id="t83" x="422.74" y="375.02" font-family="&quot;Liberation Sans&quot;, sans-serif" font-size="8.244" font-weight="normal" fill="#333" textLength="34.35" lengthAdjust="spacingAndGlyphs">Anecdótico</text>
<text id="t84" x="422.26" y="387.00" font-family="&quot;Liberation Sans&quot;, sans-serif" font-size="8.244" font-weight="normal" fill="#333" textLength="34.59" lengthAdjust="spacingAndGlyphs">Anecdótico</text>
<text id="t85" x="419.04" y="399.80" font-family="&quot;Liberation Sans&quot;, sans-serif" font-size="18.979" font-weight="normal" fill="#333" textLength="1.85" lengthAdjust="spacingAndGlyphs">-</text>
<text id="t86" x="423.48" y="396.48" font-family="&quot;Liberation Sans&quot;, sans-serif" font-size="8.244" font-weight="normal" fill="#333" textLength="32.58" lengthAdjust="spacingAndGlyphs">Moderado</text>
<text id="t87" transform="translate(468.52,345.72) rotate(90)" x="0" y="0" font-family="&quot;Liberation Sans&quot;, sans-serif" font-size="7.635" font-weight="normal" fill="#333" stroke="#333" stroke-width="0.15" textLength="29.44" lengthAdjust="spacingAndGlyphs">Evidencia</text>
<text id="t88" transform="translate(199.26,368.52) rotate(-90)" x="0" y="0" font-family="&quot;Liberation Sans&quot;, sans-serif" font-size="9.350" font-weight="normal" fill="#666" textLength="14.66" lengthAdjust="spacingAndGlyphs">BF10</text>
<text id="t89" x="233.98" y="410.48" font-family="&quot;Liberation Sans&quot;, sans-serif" font-size="7.521" font-weight="normal" fill="#555" textLength="3.84" lengthAdjust="spacingAndGlyphs">0</text>
<text id="t90" x="276.22" y="410.48" font-family="&quot;Liberation Sans&quot;, sans-serif" font-size="7.521" font-weight="normal" fill="#555" textLength="7.25" lengthAdjust="spacingAndGlyphs">50</text>
<text id="t91" x="318.22" y="411.50" font-family="&quot;Liberation Sans&quot;, sans-serif" font-size="7.521" font-weight="normal" fill="#555" textLength="10.43" lengthAdjust="spacingAndGlyphs">100</text>
<text id="t92" x="361.96" y="411.50" font-family="&quot;Liberation Sans&quot;, sans-serif" font-size="7.521" font-weight="normal" fill="#555" textLength="10.18" lengthAdjust="spacingAndGlyphs">150</text>
<text id="t93" x="406.76" y="411.50" font-family="&quot;Liberation Sans&quot;, sans-serif" font-size="7.521" font-weight="normal" fill="#555" textLength="9.65" lengthAdjust="spacingAndGlyphs">200</text>
<text id="t94" x="322.00" y="423.70" font-family="&quot;Liberation Sans&quot;, sans-serif" font-size="6.400" font-weight="normal" fill="#555" textLength="4.09" lengthAdjust="spacingAndGlyphs">n</text>
<text id="t95" x="246.46" y="333.68" font-family="&quot;Liberation Sans&quot;, sans-serif" font-size="7.289" font-weight="normal" fill="#444" textLength="46.14" lengthAdjust="spacingAndGlyphs">Evidencia para</text>
<text id="t96" x="293.94" y="332.94" font-family="&quot;Liberation Sans&quot;, sans-serif" font-size="4.506" font-weight="bold" fill="#333" textLength="5.30" lengthAdjust="spacingAndGlyphs">H</text>
<text id="t97" x="299.44" y="334.08" font-family="&quot;Liberation Sans&quot;, sans-serif" font-size="4.690" font-weight="bold" fill="#333" textLength="3.46" lengthAdjust="spacingAndGlyphs">1</text>
<text id="t98" x="251.20" y="388.16" font-family="&quot;Liberation Sans&quot;, sans-serif" font-size="7.289" font-weight="normal" fill="#444" textLength="46.33" lengthAdjust="spacingAndGlyphs">Evidencia para</text>
<text id="t99" x="299.20" y="388.32" font-family="&quot;Liberation Sans&quot;, sans-serif" font-size="5.961" font-weight="bold" fill="#333" textLength="5.05" lengthAdjust="spacingAndGlyphs">H</text>
<text id="t100" x="304.31" y="391.32" font-family="&quot;Liberation Sans&quot;, sans-serif" font-size="8.499" font-weight="bold" fill="#333" textLength="3.58" lengthAdjust="spacingAndGlyphs">0</text>
</svg>
</body></html>
